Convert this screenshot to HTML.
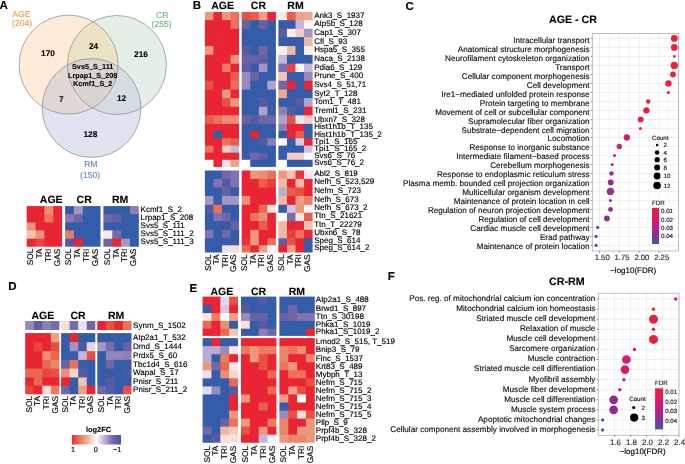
<!DOCTYPE html>
<html><head><meta charset="utf-8"><style>
html,body{margin:0;padding:0;background:#fff;}
body{width:685px;height:464px;overflow:hidden;}
svg{display:block;will-change:transform;}
text{font-family:"Liberation Sans", sans-serif;text-rendering:geometricPrecision;}
</style></head><body>
<svg width="685" height="464" viewBox="0 0 685 464" font-family='"Liberation Sans", sans-serif'>
<rect width="685" height="464" fill="#fff"/>
<text x="-0.40" y="8.90" font-size="11.5" font-weight="bold" text-anchor="start" fill="#000" stroke="#000" stroke-width="0.1" >A</text>
<text x="192.80" y="9.00" font-size="11.5" font-weight="bold" text-anchor="start" fill="#000" stroke="#000" stroke-width="0.1" >B</text>
<text x="405.60" y="9.50" font-size="11.5" font-weight="bold" text-anchor="start" fill="#000" stroke="#000" stroke-width="0.1" >C</text>
<text x="8.30" y="289.80" font-size="11.5" font-weight="bold" text-anchor="start" fill="#000" stroke="#000" stroke-width="0.1" >D</text>
<text x="189.40" y="291.80" font-size="11.5" font-weight="bold" text-anchor="start" fill="#000" stroke="#000" stroke-width="0.1" >E</text>
<text x="387.80" y="279.90" font-size="11.5" font-weight="bold" text-anchor="start" fill="#000" stroke="#000" stroke-width="0.1" >F</text>
<defs>
<clipPath id="cpA"><circle cx="68.6" cy="64.6" r="49.5" fill="#000" /></clipPath>
<clipPath id="cpC"><circle cx="116.9" cy="65.0" r="49.5" fill="#000" /></clipPath>
<clipPath id="cpR"><circle cx="91.6" cy="108.0" r="49.4" fill="#000" /></clipPath>
</defs>
<circle cx="68.6" cy="64.6" r="49.5" fill="#fdebd8" />
<circle cx="116.9" cy="65.0" r="49.5" fill="#e6efe6" />
<circle cx="91.6" cy="108.0" r="49.4" fill="#e0e3f0" />
<g clip-path="url(#cpA)"><circle cx="116.9" cy="65.0" r="49.5" fill="#ece2c6" /><circle cx="91.6" cy="108.0" r="49.4" fill="#e2d7d7" /></g>
<g clip-path="url(#cpC)"><circle cx="91.6" cy="108.0" r="49.4" fill="#d4dce4" /></g>
<g clip-path="url(#cpA)"><g clip-path="url(#cpC)"><circle cx="91.6" cy="108.0" r="49.4" fill="#d8d5d0" /></g></g>
<circle cx="68.6" cy="64.6" r="49.5" fill="none" stroke="#8a8a8a" stroke-width="0.7"/>
<circle cx="116.9" cy="65.0" r="49.5" fill="none" stroke="#8a8a8a" stroke-width="0.7"/>
<circle cx="91.6" cy="108.0" r="49.4" fill="none" stroke="#8a8a8a" stroke-width="0.7"/>
<text x="48.00" y="56.40" font-size="8.3" font-weight="bold" text-anchor="middle" fill="#000" stroke="#000" stroke-width="0.1" >170</text>
<text x="141.00" y="56.90" font-size="8.3" font-weight="bold" text-anchor="middle" fill="#000" stroke="#000" stroke-width="0.1" >216</text>
<text x="93.50" y="48.90" font-size="8.3" font-weight="bold" text-anchor="middle" fill="#000" stroke="#000" stroke-width="0.1" >24</text>
<text x="61.30" y="101.50" font-size="8.3" font-weight="bold" text-anchor="middle" fill="#000" stroke="#000" stroke-width="0.1" >7</text>
<text x="121.50" y="101.20" font-size="8.3" font-weight="bold" text-anchor="middle" fill="#000" stroke="#000" stroke-width="0.1" >12</text>
<text x="90.40" y="136.90" font-size="8.3" font-weight="bold" text-anchor="middle" fill="#000" stroke="#000" stroke-width="0.1" >128</text>
<text x="92.70" y="68.70" font-size="7.3" font-weight="bold" text-anchor="middle" fill="#000" stroke="#000" stroke-width="0.1" >Svs5_S_111</text>
<text x="92.70" y="77.70" font-size="7.3" font-weight="bold" text-anchor="middle" fill="#000" stroke="#000" stroke-width="0.1" >Lrpap1_S_208</text>
<text x="92.70" y="86.20" font-size="7.3" font-weight="bold" text-anchor="middle" fill="#000" stroke="#000" stroke-width="0.1" >Kcmf1_S_2</text>
<text x="21.30" y="16.80" font-size="8.6" font-weight="normal" text-anchor="middle" fill="#e9a24d" stroke="#e9a24d" stroke-width="0.15" >AGE</text>
<text x="22.10" y="26.00" font-size="8.6" font-weight="normal" text-anchor="middle" fill="#e9a24d" stroke="#e9a24d" stroke-width="0.15" >(204)</text>
<text x="162.20" y="18.00" font-size="8.6" font-weight="normal" text-anchor="middle" fill="#6fbb84" stroke="#6fbb84" stroke-width="0.15" >CR</text>
<text x="161.60" y="27.30" font-size="8.6" font-weight="normal" text-anchor="middle" fill="#6fbb84" stroke="#6fbb84" stroke-width="0.15" >(255)</text>
<text x="91.00" y="167.30" font-size="8.6" font-weight="normal" text-anchor="middle" fill="#6b87c6" stroke="#6b87c6" stroke-width="0.15" >RM</text>
<text x="90.10" y="177.90" font-size="8.6" font-weight="normal" text-anchor="middle" fill="#6b87c6" stroke="#6b87c6" stroke-width="0.15" >(150)</text>
<rect x="26.70" y="206.10" width="9.55" height="8.80" fill="#e92434"/>
<rect x="35.55" y="206.10" width="9.55" height="8.80" fill="#e92434"/>
<rect x="44.40" y="206.10" width="9.55" height="8.80" fill="#ec8e73"/>
<rect x="53.25" y="206.10" width="8.85" height="8.80" fill="#e92434"/>
<rect x="65.10" y="206.10" width="9.55" height="8.80" fill="#355ca8"/>
<rect x="73.95" y="206.10" width="9.55" height="8.80" fill="#a396c4"/>
<rect x="82.80" y="206.10" width="9.55" height="8.80" fill="#355ca8"/>
<rect x="91.65" y="206.10" width="8.85" height="8.80" fill="#355ca8"/>
<rect x="103.40" y="206.10" width="9.55" height="8.80" fill="#355ca8"/>
<rect x="112.25" y="206.10" width="9.55" height="8.80" fill="#355ca8"/>
<rect x="121.10" y="206.10" width="9.55" height="8.80" fill="#355ca8"/>
<rect x="129.95" y="206.10" width="8.85" height="8.80" fill="#8c7fb6"/>
<rect x="26.70" y="214.20" width="9.55" height="9.00" fill="#e92434"/>
<rect x="35.55" y="214.20" width="9.55" height="9.00" fill="#e92434"/>
<rect x="44.40" y="214.20" width="9.55" height="9.00" fill="#ea765c"/>
<rect x="53.25" y="214.20" width="8.85" height="9.00" fill="#e92434"/>
<rect x="65.10" y="214.20" width="9.55" height="9.00" fill="#8578b2"/>
<rect x="73.95" y="214.20" width="9.55" height="9.00" fill="#6d65a5"/>
<rect x="82.80" y="214.20" width="9.55" height="9.00" fill="#355ca8"/>
<rect x="91.65" y="214.20" width="8.85" height="9.00" fill="#355ca8"/>
<rect x="103.40" y="214.20" width="9.55" height="9.00" fill="#6d65a5"/>
<rect x="112.25" y="214.20" width="9.55" height="9.00" fill="#6260a2"/>
<rect x="121.10" y="214.20" width="9.55" height="9.00" fill="#355ca8"/>
<rect x="129.95" y="214.20" width="8.85" height="9.00" fill="#355ca8"/>
<rect x="26.70" y="222.50" width="9.55" height="8.60" fill="#ed9379"/>
<rect x="35.55" y="222.50" width="9.55" height="8.60" fill="#e92434"/>
<rect x="44.40" y="222.50" width="9.55" height="8.60" fill="#e92434"/>
<rect x="53.25" y="222.50" width="8.85" height="8.60" fill="#e92434"/>
<rect x="65.10" y="222.50" width="9.55" height="8.60" fill="#355ca8"/>
<rect x="73.95" y="222.50" width="9.55" height="8.60" fill="#355ca8"/>
<rect x="82.80" y="222.50" width="9.55" height="8.60" fill="#355ca8"/>
<rect x="91.65" y="222.50" width="8.85" height="8.60" fill="#355ca8"/>
<rect x="103.40" y="222.50" width="9.55" height="8.60" fill="#355ca8"/>
<rect x="112.25" y="222.50" width="9.55" height="8.60" fill="#355ca8"/>
<rect x="121.10" y="222.50" width="9.55" height="8.60" fill="#355ca8"/>
<rect x="129.95" y="222.50" width="8.85" height="8.60" fill="#355ca8"/>
<rect x="26.70" y="230.40" width="9.55" height="9.00" fill="#f3c4b2"/>
<rect x="35.55" y="230.40" width="9.55" height="9.00" fill="#ed9379"/>
<rect x="44.40" y="230.40" width="9.55" height="9.00" fill="#e92434"/>
<rect x="53.25" y="230.40" width="8.85" height="9.00" fill="#e92434"/>
<rect x="65.10" y="230.40" width="9.55" height="9.00" fill="#eb7960"/>
<rect x="73.95" y="230.40" width="9.55" height="9.00" fill="#355ca8"/>
<rect x="82.80" y="230.40" width="9.55" height="9.00" fill="#355ca8"/>
<rect x="91.65" y="230.40" width="8.85" height="9.00" fill="#355ca8"/>
<rect x="103.40" y="230.40" width="9.55" height="9.00" fill="#fbeae4"/>
<rect x="112.25" y="230.40" width="9.55" height="9.00" fill="#766caa"/>
<rect x="121.10" y="230.40" width="9.55" height="9.00" fill="#355ca8"/>
<rect x="129.95" y="230.40" width="8.85" height="9.00" fill="#355ca8"/>
<rect x="26.70" y="238.70" width="9.55" height="8.00" fill="#e92434"/>
<rect x="35.55" y="238.70" width="9.55" height="8.00" fill="#e9453c"/>
<rect x="44.40" y="238.70" width="9.55" height="8.00" fill="#e92434"/>
<rect x="53.25" y="238.70" width="8.85" height="8.00" fill="#e92434"/>
<rect x="65.10" y="238.70" width="9.55" height="8.00" fill="#555da2"/>
<rect x="73.95" y="238.70" width="9.55" height="8.00" fill="#e92434"/>
<rect x="82.80" y="238.70" width="9.55" height="8.00" fill="#355ca8"/>
<rect x="91.65" y="238.70" width="8.85" height="8.00" fill="#355ca8"/>
<rect x="103.40" y="238.70" width="9.55" height="8.00" fill="#6d65a5"/>
<rect x="112.25" y="238.70" width="9.55" height="8.00" fill="#e92434"/>
<rect x="121.10" y="238.70" width="9.55" height="8.00" fill="#a396c4"/>
<rect x="129.95" y="238.70" width="8.85" height="8.00" fill="#355ca8"/>
<text x="140.60" y="211.60" font-size="8" font-weight="normal" text-anchor="start" fill="#000" stroke="#000" stroke-width="0.15" >Kcmf1_S_2</text>
<text x="140.60" y="219.80" font-size="8" font-weight="normal" text-anchor="start" fill="#000" stroke="#000" stroke-width="0.15" >Lrpap1_S_208</text>
<text x="140.60" y="227.90" font-size="8" font-weight="normal" text-anchor="start" fill="#000" stroke="#000" stroke-width="0.15" >Svs5_S_111</text>
<text x="140.60" y="236.00" font-size="8" font-weight="normal" text-anchor="start" fill="#000" stroke="#000" stroke-width="0.15" >Svs5_S_111_2</text>
<text x="140.60" y="244.15" font-size="8" font-weight="normal" text-anchor="start" fill="#000" stroke="#000" stroke-width="0.15" >Svs5_S_111_3</text>
<text transform="translate(33.02,248.60) rotate(-90)" font-size="8.3" text-anchor="end" stroke="#000" stroke-width="0.15">SOL</text>
<text transform="translate(41.87,248.60) rotate(-90)" font-size="8.3" text-anchor="end" stroke="#000" stroke-width="0.15">TA</text>
<text transform="translate(50.73,248.60) rotate(-90)" font-size="8.3" text-anchor="end" stroke="#000" stroke-width="0.15">TRI</text>
<text transform="translate(59.57,248.60) rotate(-90)" font-size="8.3" text-anchor="end" stroke="#000" stroke-width="0.15">GAS</text>
<text transform="translate(71.42,248.60) rotate(-90)" font-size="8.3" text-anchor="end" stroke="#000" stroke-width="0.15">SOL</text>
<text transform="translate(80.28,248.60) rotate(-90)" font-size="8.3" text-anchor="end" stroke="#000" stroke-width="0.15">TA</text>
<text transform="translate(89.12,248.60) rotate(-90)" font-size="8.3" text-anchor="end" stroke="#000" stroke-width="0.15">TRI</text>
<text transform="translate(97.97,248.60) rotate(-90)" font-size="8.3" text-anchor="end" stroke="#000" stroke-width="0.15">GAS</text>
<text transform="translate(109.73,248.60) rotate(-90)" font-size="8.3" text-anchor="end" stroke="#000" stroke-width="0.15">SOL</text>
<text transform="translate(118.58,248.60) rotate(-90)" font-size="8.3" text-anchor="end" stroke="#000" stroke-width="0.15">TA</text>
<text transform="translate(127.43,248.60) rotate(-90)" font-size="8.3" text-anchor="end" stroke="#000" stroke-width="0.15">TRI</text>
<text transform="translate(136.28,248.60) rotate(-90)" font-size="8.3" text-anchor="end" stroke="#000" stroke-width="0.15">GAS</text>
<text x="62.60" y="202.80" font-size="10.5" font-weight="bold" text-anchor="end" fill="#000" stroke="#000" stroke-width="0.1" >AGE</text>
<text x="84.20" y="202.80" font-size="10.5" font-weight="bold" text-anchor="middle" fill="#000" stroke="#000" stroke-width="0.1" >CR</text>
<text x="120.20" y="202.80" font-size="10.5" font-weight="bold" text-anchor="middle" fill="#000" stroke="#000" stroke-width="0.1" >RM</text>
<rect x="204.90" y="11.90" width="9.25" height="8.95" fill="#ed977d"/>
<rect x="213.45" y="11.90" width="9.25" height="8.95" fill="#e92434"/>
<rect x="222.00" y="11.90" width="9.25" height="8.95" fill="#ed977d"/>
<rect x="230.55" y="11.90" width="8.55" height="8.95" fill="#ea7259"/>
<rect x="241.70" y="11.90" width="9.25" height="8.95" fill="#e95041"/>
<rect x="250.25" y="11.90" width="9.25" height="8.95" fill="#ea5d49"/>
<rect x="258.80" y="11.90" width="9.25" height="8.95" fill="#eea086"/>
<rect x="267.35" y="11.90" width="8.55" height="8.95" fill="#e92434"/>
<rect x="278.40" y="11.90" width="9.25" height="8.95" fill="#fbeae4"/>
<rect x="286.95" y="11.90" width="9.25" height="8.95" fill="#ea5d49"/>
<rect x="295.50" y="11.90" width="9.25" height="8.95" fill="#eea086"/>
<rect x="304.05" y="11.90" width="8.55" height="8.95" fill="#efa78f"/>
<rect x="204.90" y="20.15" width="9.25" height="9.35" fill="#e92434"/>
<rect x="213.45" y="20.15" width="9.25" height="9.35" fill="#e92434"/>
<rect x="222.00" y="20.15" width="9.25" height="9.35" fill="#e92434"/>
<rect x="230.55" y="20.15" width="8.55" height="9.35" fill="#ea7259"/>
<rect x="241.70" y="20.15" width="9.25" height="9.35" fill="#6862a2"/>
<rect x="250.25" y="20.15" width="9.25" height="9.35" fill="#355ca8"/>
<rect x="258.80" y="20.15" width="9.25" height="9.35" fill="#6862a2"/>
<rect x="267.35" y="20.15" width="8.55" height="9.35" fill="#355ca8"/>
<rect x="278.40" y="20.15" width="9.25" height="9.35" fill="#355ca8"/>
<rect x="286.95" y="20.15" width="9.25" height="9.35" fill="#355ca8"/>
<rect x="295.50" y="20.15" width="9.25" height="9.35" fill="#c4b6d7"/>
<rect x="304.05" y="20.15" width="8.55" height="9.35" fill="#fdf5f1"/>
<rect x="204.90" y="28.80" width="9.25" height="9.00" fill="#e92434"/>
<rect x="213.45" y="28.80" width="9.25" height="9.00" fill="#e92434"/>
<rect x="222.00" y="28.80" width="9.25" height="9.00" fill="#e92434"/>
<rect x="230.55" y="28.80" width="8.55" height="9.00" fill="#e92434"/>
<rect x="241.70" y="28.80" width="9.25" height="9.00" fill="#355ca8"/>
<rect x="250.25" y="28.80" width="9.25" height="9.00" fill="#355ca8"/>
<rect x="258.80" y="28.80" width="9.25" height="9.00" fill="#355ca8"/>
<rect x="267.35" y="28.80" width="8.55" height="9.00" fill="#355ca8"/>
<rect x="278.40" y="28.80" width="9.25" height="9.00" fill="#555da2"/>
<rect x="286.95" y="28.80" width="9.25" height="9.00" fill="#fceee9"/>
<rect x="295.50" y="28.80" width="9.25" height="9.00" fill="#f5cdbe"/>
<rect x="304.05" y="28.80" width="8.55" height="9.00" fill="#a396c4"/>
<rect x="204.90" y="37.10" width="9.25" height="9.70" fill="#e92434"/>
<rect x="213.45" y="37.10" width="9.25" height="9.70" fill="#e92434"/>
<rect x="222.00" y="37.10" width="9.25" height="9.70" fill="#e92434"/>
<rect x="230.55" y="37.10" width="8.55" height="9.70" fill="#e92434"/>
<rect x="241.70" y="37.10" width="9.25" height="9.70" fill="#355ca8"/>
<rect x="250.25" y="37.10" width="9.25" height="9.70" fill="#355ca8"/>
<rect x="258.80" y="37.10" width="9.25" height="9.70" fill="#355ca8"/>
<rect x="267.35" y="37.10" width="8.55" height="9.70" fill="#355ca8"/>
<rect x="278.40" y="37.10" width="9.25" height="9.70" fill="#355ca8"/>
<rect x="286.95" y="37.10" width="9.25" height="9.70" fill="#355ca8"/>
<rect x="295.50" y="37.10" width="9.25" height="9.70" fill="#355ca8"/>
<rect x="304.05" y="37.10" width="8.55" height="9.70" fill="#f1b8a3"/>
<rect x="204.90" y="46.10" width="9.25" height="9.50" fill="#ed977d"/>
<rect x="213.45" y="46.10" width="9.25" height="9.50" fill="#e92434"/>
<rect x="222.00" y="46.10" width="9.25" height="9.50" fill="#e92434"/>
<rect x="230.55" y="46.10" width="8.55" height="9.50" fill="#e92434"/>
<rect x="241.70" y="46.10" width="9.25" height="9.50" fill="#555da2"/>
<rect x="250.25" y="46.10" width="9.25" height="9.50" fill="#355ca8"/>
<rect x="258.80" y="46.10" width="9.25" height="9.50" fill="#7068a6"/>
<rect x="267.35" y="46.10" width="8.55" height="9.50" fill="#355ca8"/>
<rect x="278.40" y="46.10" width="9.25" height="9.50" fill="#fceee9"/>
<rect x="286.95" y="46.10" width="9.25" height="9.50" fill="#f1b8a3"/>
<rect x="295.50" y="46.10" width="9.25" height="9.50" fill="#355ca8"/>
<rect x="304.05" y="46.10" width="8.55" height="9.50" fill="#fceee9"/>
<rect x="204.90" y="54.90" width="9.25" height="9.45" fill="#e92434"/>
<rect x="213.45" y="54.90" width="9.25" height="9.45" fill="#e92434"/>
<rect x="222.00" y="54.90" width="9.25" height="9.45" fill="#e92434"/>
<rect x="230.55" y="54.90" width="8.55" height="9.45" fill="#ed977d"/>
<rect x="241.70" y="54.90" width="9.25" height="9.45" fill="#6862a2"/>
<rect x="250.25" y="54.90" width="9.25" height="9.45" fill="#6862a2"/>
<rect x="258.80" y="54.90" width="9.25" height="9.45" fill="#5f5fa2"/>
<rect x="267.35" y="54.90" width="8.55" height="9.45" fill="#355ca8"/>
<rect x="278.40" y="54.90" width="9.25" height="9.45" fill="#c4b6d7"/>
<rect x="286.95" y="54.90" width="9.25" height="9.45" fill="#355ca8"/>
<rect x="295.50" y="54.90" width="9.25" height="9.45" fill="#355ca8"/>
<rect x="304.05" y="54.90" width="8.55" height="9.45" fill="#355ca8"/>
<rect x="204.90" y="63.65" width="9.25" height="9.05" fill="#e92434"/>
<rect x="213.45" y="63.65" width="9.25" height="9.05" fill="#e92434"/>
<rect x="222.00" y="63.65" width="9.25" height="9.05" fill="#eb7b61"/>
<rect x="230.55" y="63.65" width="8.55" height="9.05" fill="#e92434"/>
<rect x="241.70" y="63.65" width="9.25" height="9.05" fill="#5f5fa2"/>
<rect x="250.25" y="63.65" width="9.25" height="9.05" fill="#355ca8"/>
<rect x="258.80" y="63.65" width="9.25" height="9.05" fill="#a396c4"/>
<rect x="267.35" y="63.65" width="8.55" height="9.05" fill="#355ca8"/>
<rect x="278.40" y="63.65" width="9.25" height="9.05" fill="#786dab"/>
<rect x="286.95" y="63.65" width="9.25" height="9.05" fill="#e9453c"/>
<rect x="295.50" y="63.65" width="9.25" height="9.05" fill="#f7f5f9"/>
<rect x="304.05" y="63.65" width="8.55" height="9.05" fill="#c4b6d7"/>
<rect x="204.90" y="72.00" width="9.25" height="9.45" fill="#e92434"/>
<rect x="213.45" y="72.00" width="9.25" height="9.45" fill="#e92434"/>
<rect x="222.00" y="72.00" width="9.25" height="9.45" fill="#e92434"/>
<rect x="230.55" y="72.00" width="8.55" height="9.45" fill="#ea5d49"/>
<rect x="241.70" y="72.00" width="9.25" height="9.45" fill="#978abd"/>
<rect x="250.25" y="72.00" width="9.25" height="9.45" fill="#6862a2"/>
<rect x="258.80" y="72.00" width="9.25" height="9.45" fill="#355ca8"/>
<rect x="267.35" y="72.00" width="8.55" height="9.45" fill="#355ca8"/>
<rect x="278.40" y="72.00" width="9.25" height="9.45" fill="#f3c4b2"/>
<rect x="286.95" y="72.00" width="9.25" height="9.45" fill="#355ca8"/>
<rect x="295.50" y="72.00" width="9.25" height="9.45" fill="#355ca8"/>
<rect x="304.05" y="72.00" width="8.55" height="9.45" fill="#978abd"/>
<rect x="204.90" y="80.75" width="9.25" height="9.50" fill="#e95041"/>
<rect x="213.45" y="80.75" width="9.25" height="9.50" fill="#e92434"/>
<rect x="222.00" y="80.75" width="9.25" height="9.50" fill="#e92434"/>
<rect x="230.55" y="80.75" width="8.55" height="9.50" fill="#ea7259"/>
<rect x="241.70" y="80.75" width="9.25" height="9.50" fill="#978abd"/>
<rect x="250.25" y="80.75" width="9.25" height="9.50" fill="#355ca8"/>
<rect x="258.80" y="80.75" width="9.25" height="9.50" fill="#355ca8"/>
<rect x="267.35" y="80.75" width="8.55" height="9.50" fill="#aea1ca"/>
<rect x="278.40" y="80.75" width="9.25" height="9.50" fill="#7068a6"/>
<rect x="286.95" y="80.75" width="9.25" height="9.50" fill="#e92434"/>
<rect x="295.50" y="80.75" width="9.25" height="9.50" fill="#355ca8"/>
<rect x="304.05" y="80.75" width="8.55" height="9.50" fill="#e92434"/>
<rect x="204.90" y="89.55" width="9.25" height="9.30" fill="#e92434"/>
<rect x="213.45" y="89.55" width="9.25" height="9.30" fill="#e92434"/>
<rect x="222.00" y="89.55" width="9.25" height="9.30" fill="#ed977d"/>
<rect x="230.55" y="89.55" width="8.55" height="9.30" fill="#e92434"/>
<rect x="241.70" y="89.55" width="9.25" height="9.30" fill="#355ca8"/>
<rect x="250.25" y="89.55" width="9.25" height="9.30" fill="#355ca8"/>
<rect x="258.80" y="89.55" width="9.25" height="9.30" fill="#355ca8"/>
<rect x="267.35" y="89.55" width="8.55" height="9.30" fill="#355ca8"/>
<rect x="278.40" y="89.55" width="9.25" height="9.30" fill="#efa78f"/>
<rect x="286.95" y="89.55" width="9.25" height="9.30" fill="#355ca8"/>
<rect x="295.50" y="89.55" width="9.25" height="9.30" fill="#355ca8"/>
<rect x="304.05" y="89.55" width="8.55" height="9.30" fill="#355ca8"/>
<rect x="204.90" y="98.15" width="9.25" height="9.35" fill="#e92434"/>
<rect x="213.45" y="98.15" width="9.25" height="9.35" fill="#e92434"/>
<rect x="222.00" y="98.15" width="9.25" height="9.35" fill="#e95041"/>
<rect x="230.55" y="98.15" width="8.55" height="9.35" fill="#ed977d"/>
<rect x="241.70" y="98.15" width="9.25" height="9.35" fill="#355ca8"/>
<rect x="250.25" y="98.15" width="9.25" height="9.35" fill="#355ca8"/>
<rect x="258.80" y="98.15" width="9.25" height="9.35" fill="#535ca2"/>
<rect x="267.35" y="98.15" width="8.55" height="9.35" fill="#355ca8"/>
<rect x="278.40" y="98.15" width="9.25" height="9.35" fill="#355ca8"/>
<rect x="286.95" y="98.15" width="9.25" height="9.35" fill="#355ca8"/>
<rect x="295.50" y="98.15" width="9.25" height="9.35" fill="#535ca2"/>
<rect x="304.05" y="98.15" width="8.55" height="9.35" fill="#aea1ca"/>
<rect x="204.90" y="106.80" width="9.25" height="9.20" fill="#e92434"/>
<rect x="213.45" y="106.80" width="9.25" height="9.20" fill="#e92434"/>
<rect x="222.00" y="106.80" width="9.25" height="9.20" fill="#e92434"/>
<rect x="230.55" y="106.80" width="8.55" height="9.20" fill="#e92434"/>
<rect x="241.70" y="106.80" width="9.25" height="9.20" fill="#355ca8"/>
<rect x="250.25" y="106.80" width="9.25" height="9.20" fill="#355ca8"/>
<rect x="258.80" y="106.80" width="9.25" height="9.20" fill="#aea1ca"/>
<rect x="267.35" y="106.80" width="8.55" height="9.20" fill="#355ca8"/>
<rect x="278.40" y="106.80" width="9.25" height="9.20" fill="#8c7fb6"/>
<rect x="286.95" y="106.80" width="9.25" height="9.20" fill="#535ca2"/>
<rect x="295.50" y="106.80" width="9.25" height="9.20" fill="#355ca8"/>
<rect x="304.05" y="106.80" width="8.55" height="9.20" fill="#e92434"/>
<rect x="204.90" y="115.30" width="9.25" height="9.30" fill="#ea5d49"/>
<rect x="213.45" y="115.30" width="9.25" height="9.30" fill="#ea7259"/>
<rect x="222.00" y="115.30" width="9.25" height="9.30" fill="#ec8e73"/>
<rect x="230.55" y="115.30" width="8.55" height="9.30" fill="#ec8e73"/>
<rect x="241.70" y="115.30" width="9.25" height="9.30" fill="#6862a2"/>
<rect x="250.25" y="115.30" width="9.25" height="9.30" fill="#535ca2"/>
<rect x="258.80" y="115.30" width="9.25" height="9.30" fill="#7068a6"/>
<rect x="267.35" y="115.30" width="8.55" height="9.30" fill="#7068a6"/>
<rect x="278.40" y="115.30" width="9.25" height="9.30" fill="#aea1ca"/>
<rect x="286.95" y="115.30" width="9.25" height="9.30" fill="#e95041"/>
<rect x="295.50" y="115.30" width="9.25" height="9.30" fill="#ece6f1"/>
<rect x="304.05" y="115.30" width="8.55" height="9.30" fill="#f5cdbe"/>
<rect x="204.90" y="123.90" width="9.25" height="7.80" fill="#e92434"/>
<rect x="213.45" y="123.90" width="9.25" height="7.80" fill="#e92434"/>
<rect x="222.00" y="123.90" width="9.25" height="7.80" fill="#e92434"/>
<rect x="230.55" y="123.90" width="8.55" height="7.80" fill="#e92434"/>
<rect x="241.70" y="123.90" width="9.25" height="7.80" fill="#355ca8"/>
<rect x="250.25" y="123.90" width="9.25" height="7.80" fill="#355ca8"/>
<rect x="258.80" y="123.90" width="9.25" height="7.80" fill="#355ca8"/>
<rect x="267.35" y="123.90" width="8.55" height="7.80" fill="#355ca8"/>
<rect x="278.40" y="123.90" width="9.25" height="7.80" fill="#8c7fb6"/>
<rect x="286.95" y="123.90" width="9.25" height="7.80" fill="#e92434"/>
<rect x="295.50" y="123.90" width="9.25" height="7.80" fill="#e92434"/>
<rect x="304.05" y="123.90" width="8.55" height="7.80" fill="#355ca8"/>
<rect x="204.90" y="131.00" width="9.25" height="8.00" fill="#e92434"/>
<rect x="213.45" y="131.00" width="9.25" height="8.00" fill="#355ca8"/>
<rect x="222.00" y="131.00" width="9.25" height="8.00" fill="#e92434"/>
<rect x="230.55" y="131.00" width="8.55" height="8.00" fill="#e92434"/>
<rect x="241.70" y="131.00" width="9.25" height="8.00" fill="#355ca8"/>
<rect x="250.25" y="131.00" width="9.25" height="8.00" fill="#e92434"/>
<rect x="258.80" y="131.00" width="9.25" height="8.00" fill="#355ca8"/>
<rect x="267.35" y="131.00" width="8.55" height="8.00" fill="#355ca8"/>
<rect x="278.40" y="131.00" width="9.25" height="8.00" fill="#355ca8"/>
<rect x="286.95" y="131.00" width="9.25" height="8.00" fill="#e92434"/>
<rect x="295.50" y="131.00" width="9.25" height="8.00" fill="#ea5d49"/>
<rect x="304.05" y="131.00" width="8.55" height="8.00" fill="#355ca8"/>
<rect x="204.90" y="138.30" width="9.25" height="8.00" fill="#e92434"/>
<rect x="213.45" y="138.30" width="9.25" height="8.00" fill="#e92434"/>
<rect x="222.00" y="138.30" width="9.25" height="8.00" fill="#ea7259"/>
<rect x="230.55" y="138.30" width="8.55" height="8.00" fill="#ea5d49"/>
<rect x="241.70" y="138.30" width="9.25" height="8.00" fill="#355ca8"/>
<rect x="250.25" y="138.30" width="9.25" height="8.00" fill="#355ca8"/>
<rect x="258.80" y="138.30" width="9.25" height="8.00" fill="#535ca2"/>
<rect x="267.35" y="138.30" width="8.55" height="8.00" fill="#8c7fb6"/>
<rect x="278.40" y="138.30" width="9.25" height="8.00" fill="#fef9f7"/>
<rect x="286.95" y="138.30" width="9.25" height="8.00" fill="#355ca8"/>
<rect x="295.50" y="138.30" width="9.25" height="8.00" fill="#d8cde4"/>
<rect x="304.05" y="138.30" width="8.55" height="8.00" fill="#e92434"/>
<rect x="204.90" y="145.60" width="9.25" height="7.80" fill="#ea7259"/>
<rect x="213.45" y="145.60" width="9.25" height="7.80" fill="#e92434"/>
<rect x="222.00" y="145.60" width="9.25" height="7.80" fill="#f5cdbe"/>
<rect x="230.55" y="145.60" width="8.55" height="7.80" fill="#c4b6d7"/>
<rect x="241.70" y="145.60" width="9.25" height="7.80" fill="#355ca8"/>
<rect x="250.25" y="145.60" width="9.25" height="7.80" fill="#355ca8"/>
<rect x="258.80" y="145.60" width="9.25" height="7.80" fill="#355ca8"/>
<rect x="267.35" y="145.60" width="8.55" height="7.80" fill="#355ca8"/>
<rect x="278.40" y="145.60" width="9.25" height="7.80" fill="#355ca8"/>
<rect x="286.95" y="145.60" width="9.25" height="7.80" fill="#355ca8"/>
<rect x="295.50" y="145.60" width="9.25" height="7.80" fill="#355ca8"/>
<rect x="304.05" y="145.60" width="8.55" height="7.80" fill="#cec2dd"/>
<rect x="204.90" y="152.70" width="9.25" height="7.80" fill="#e92434"/>
<rect x="213.45" y="152.70" width="9.25" height="7.80" fill="#e92434"/>
<rect x="222.00" y="152.70" width="9.25" height="7.80" fill="#e92434"/>
<rect x="230.55" y="152.70" width="8.55" height="7.80" fill="#e92434"/>
<rect x="241.70" y="152.70" width="9.25" height="7.80" fill="#355ca8"/>
<rect x="250.25" y="152.70" width="9.25" height="7.80" fill="#7068a6"/>
<rect x="258.80" y="152.70" width="9.25" height="7.80" fill="#5f5fa2"/>
<rect x="267.35" y="152.70" width="8.55" height="7.80" fill="#355ca8"/>
<rect x="278.40" y="152.70" width="9.25" height="7.80" fill="#355ca8"/>
<rect x="286.95" y="152.70" width="9.25" height="7.80" fill="#f5cdbe"/>
<rect x="295.50" y="152.70" width="9.25" height="7.80" fill="#f5cdbe"/>
<rect x="304.05" y="152.70" width="8.55" height="7.80" fill="#fefbfa"/>
<rect x="204.90" y="159.80" width="9.25" height="7.10" fill="#ffffff"/>
<rect x="213.45" y="159.80" width="9.25" height="7.10" fill="#e92434"/>
<rect x="222.00" y="159.80" width="9.25" height="7.10" fill="#e8e1ee"/>
<rect x="230.55" y="159.80" width="8.55" height="7.10" fill="#eea086"/>
<rect x="241.70" y="159.80" width="9.25" height="7.10" fill="#ffffff"/>
<rect x="250.25" y="159.80" width="9.25" height="7.10" fill="#355ca8"/>
<rect x="258.80" y="159.80" width="9.25" height="7.10" fill="#355ca8"/>
<rect x="267.35" y="159.80" width="8.55" height="7.10" fill="#355ca8"/>
<rect x="278.40" y="159.80" width="9.25" height="7.10" fill="#ffffff"/>
<rect x="286.95" y="159.80" width="9.25" height="7.10" fill="#355ca8"/>
<rect x="295.50" y="159.80" width="9.25" height="7.10" fill="#355ca8"/>
<rect x="304.05" y="159.80" width="8.55" height="7.10" fill="#355ca8"/>
<rect x="204.90" y="170.50" width="9.25" height="9.10" fill="#355ca8"/>
<rect x="213.45" y="170.50" width="9.25" height="9.10" fill="#355ca8"/>
<rect x="222.00" y="170.50" width="9.25" height="9.10" fill="#7068a6"/>
<rect x="230.55" y="170.50" width="8.55" height="9.10" fill="#8073af"/>
<rect x="241.70" y="170.50" width="9.25" height="9.10" fill="#e92434"/>
<rect x="250.25" y="170.50" width="9.25" height="9.10" fill="#ed977d"/>
<rect x="258.80" y="170.50" width="9.25" height="9.10" fill="#ec8e73"/>
<rect x="267.35" y="170.50" width="8.55" height="9.10" fill="#ea7259"/>
<rect x="278.40" y="170.50" width="9.25" height="9.10" fill="#ed977d"/>
<rect x="286.95" y="170.50" width="9.25" height="9.10" fill="#f3c4b2"/>
<rect x="295.50" y="170.50" width="9.25" height="9.10" fill="#e93538"/>
<rect x="304.05" y="170.50" width="8.55" height="9.10" fill="#ece6f1"/>
<rect x="204.90" y="178.90" width="9.25" height="9.20" fill="#355ca8"/>
<rect x="213.45" y="178.90" width="9.25" height="9.20" fill="#8073af"/>
<rect x="222.00" y="178.90" width="9.25" height="9.20" fill="#535ca2"/>
<rect x="230.55" y="178.90" width="8.55" height="9.20" fill="#8073af"/>
<rect x="241.70" y="178.90" width="9.25" height="9.20" fill="#e92434"/>
<rect x="250.25" y="178.90" width="9.25" height="9.20" fill="#e92434"/>
<rect x="258.80" y="178.90" width="9.25" height="9.20" fill="#ea5d49"/>
<rect x="267.35" y="178.90" width="8.55" height="9.20" fill="#e93f3b"/>
<rect x="278.40" y="178.90" width="9.25" height="9.20" fill="#f1b8a3"/>
<rect x="286.95" y="178.90" width="9.25" height="9.20" fill="#e92434"/>
<rect x="295.50" y="178.90" width="9.25" height="9.20" fill="#f1b8a3"/>
<rect x="304.05" y="178.90" width="8.55" height="9.20" fill="#e92434"/>
<rect x="204.90" y="187.40" width="9.25" height="9.20" fill="#355ca8"/>
<rect x="213.45" y="187.40" width="9.25" height="9.20" fill="#355ca8"/>
<rect x="222.00" y="187.40" width="9.25" height="9.20" fill="#6862a2"/>
<rect x="230.55" y="187.40" width="8.55" height="9.20" fill="#355ca8"/>
<rect x="241.70" y="187.40" width="9.25" height="9.20" fill="#e92434"/>
<rect x="250.25" y="187.40" width="9.25" height="9.20" fill="#e92434"/>
<rect x="258.80" y="187.40" width="9.25" height="9.20" fill="#e92434"/>
<rect x="267.35" y="187.40" width="8.55" height="9.20" fill="#e92434"/>
<rect x="278.40" y="187.40" width="9.25" height="9.20" fill="#b9abd1"/>
<rect x="286.95" y="187.40" width="9.25" height="9.20" fill="#ea5d49"/>
<rect x="295.50" y="187.40" width="9.25" height="9.20" fill="#e95041"/>
<rect x="304.05" y="187.40" width="8.55" height="9.20" fill="#e92434"/>
<rect x="204.90" y="195.90" width="9.25" height="9.60" fill="#a396c4"/>
<rect x="213.45" y="195.90" width="9.25" height="9.60" fill="#355ca8"/>
<rect x="222.00" y="195.90" width="9.25" height="9.60" fill="#a396c4"/>
<rect x="230.55" y="195.90" width="8.55" height="9.60" fill="#a396c4"/>
<rect x="241.70" y="195.90" width="9.25" height="9.60" fill="#ec8e73"/>
<rect x="250.25" y="195.90" width="9.25" height="9.60" fill="#e92434"/>
<rect x="258.80" y="195.90" width="9.25" height="9.60" fill="#e92434"/>
<rect x="267.35" y="195.90" width="8.55" height="9.60" fill="#e92434"/>
<rect x="278.40" y="195.90" width="9.25" height="9.60" fill="#f1b8a3"/>
<rect x="286.95" y="195.90" width="9.25" height="9.60" fill="#e92434"/>
<rect x="295.50" y="195.90" width="9.25" height="9.60" fill="#eea086"/>
<rect x="304.05" y="195.90" width="8.55" height="9.60" fill="#eb7b61"/>
<rect x="204.90" y="204.80" width="9.25" height="8.70" fill="#535ca2"/>
<rect x="213.45" y="204.80" width="9.25" height="8.70" fill="#ea7259"/>
<rect x="222.00" y="204.80" width="9.25" height="8.70" fill="#355ca8"/>
<rect x="230.55" y="204.80" width="8.55" height="8.70" fill="#355ca8"/>
<rect x="241.70" y="204.80" width="9.25" height="8.70" fill="#e92434"/>
<rect x="250.25" y="204.80" width="9.25" height="8.70" fill="#e92434"/>
<rect x="258.80" y="204.80" width="9.25" height="8.70" fill="#ea6850"/>
<rect x="267.35" y="204.80" width="8.55" height="8.70" fill="#fae6de"/>
<rect x="278.40" y="204.80" width="9.25" height="8.70" fill="#355ca8"/>
<rect x="286.95" y="204.80" width="9.25" height="8.70" fill="#cec2dd"/>
<rect x="295.50" y="204.80" width="9.25" height="8.70" fill="#ed977d"/>
<rect x="304.05" y="204.80" width="8.55" height="8.70" fill="#fef9f7"/>
<rect x="204.90" y="212.80" width="9.25" height="9.00" fill="#355ca8"/>
<rect x="213.45" y="212.80" width="9.25" height="9.00" fill="#8073af"/>
<rect x="222.00" y="212.80" width="9.25" height="9.00" fill="#7068a6"/>
<rect x="230.55" y="212.80" width="8.55" height="9.00" fill="#355ca8"/>
<rect x="241.70" y="212.80" width="9.25" height="9.00" fill="#e92434"/>
<rect x="250.25" y="212.80" width="9.25" height="9.00" fill="#ea7259"/>
<rect x="258.80" y="212.80" width="9.25" height="9.00" fill="#ec8e73"/>
<rect x="267.35" y="212.80" width="8.55" height="9.00" fill="#e92434"/>
<rect x="278.40" y="212.80" width="9.25" height="9.00" fill="#ffffff"/>
<rect x="286.95" y="212.80" width="9.25" height="9.00" fill="#786dab"/>
<rect x="295.50" y="212.80" width="9.25" height="9.00" fill="#fae6de"/>
<rect x="304.05" y="212.80" width="8.55" height="9.00" fill="#ea5d49"/>
<rect x="204.90" y="221.10" width="9.25" height="9.50" fill="#355ca8"/>
<rect x="213.45" y="221.10" width="9.25" height="9.50" fill="#355ca8"/>
<rect x="222.00" y="221.10" width="9.25" height="9.50" fill="#355ca8"/>
<rect x="230.55" y="221.10" width="8.55" height="9.50" fill="#6862a2"/>
<rect x="241.70" y="221.10" width="9.25" height="9.50" fill="#e92434"/>
<rect x="250.25" y="221.10" width="9.25" height="9.50" fill="#e92434"/>
<rect x="258.80" y="221.10" width="9.25" height="9.50" fill="#ea5d49"/>
<rect x="267.35" y="221.10" width="8.55" height="9.50" fill="#e92434"/>
<rect x="278.40" y="221.10" width="9.25" height="9.50" fill="#f1b8a3"/>
<rect x="286.95" y="221.10" width="9.25" height="9.50" fill="#e92434"/>
<rect x="295.50" y="221.10" width="9.25" height="9.50" fill="#e92434"/>
<rect x="304.05" y="221.10" width="8.55" height="9.50" fill="#f3c4b2"/>
<rect x="204.90" y="229.90" width="9.25" height="9.10" fill="#8073af"/>
<rect x="213.45" y="229.90" width="9.25" height="9.10" fill="#355ca8"/>
<rect x="222.00" y="229.90" width="9.25" height="9.10" fill="#7068a6"/>
<rect x="230.55" y="229.90" width="8.55" height="9.10" fill="#355ca8"/>
<rect x="241.70" y="229.90" width="9.25" height="9.10" fill="#e92434"/>
<rect x="250.25" y="229.90" width="9.25" height="9.10" fill="#ed977d"/>
<rect x="258.80" y="229.90" width="9.25" height="9.10" fill="#e92434"/>
<rect x="267.35" y="229.90" width="8.55" height="9.10" fill="#e92434"/>
<rect x="278.40" y="229.90" width="9.25" height="9.10" fill="#f1b8a3"/>
<rect x="286.95" y="229.90" width="9.25" height="9.10" fill="#e93f3b"/>
<rect x="295.50" y="229.90" width="9.25" height="9.10" fill="#ea7259"/>
<rect x="304.05" y="229.90" width="8.55" height="9.10" fill="#e92434"/>
<rect x="204.90" y="238.30" width="9.25" height="7.70" fill="#355ca8"/>
<rect x="213.45" y="238.30" width="9.25" height="7.70" fill="#355ca8"/>
<rect x="222.00" y="238.30" width="9.25" height="7.70" fill="#355ca8"/>
<rect x="230.55" y="238.30" width="8.55" height="7.70" fill="#355ca8"/>
<rect x="241.70" y="238.30" width="9.25" height="7.70" fill="#e93538"/>
<rect x="250.25" y="238.30" width="9.25" height="7.70" fill="#ed977d"/>
<rect x="258.80" y="238.30" width="9.25" height="7.70" fill="#e92434"/>
<rect x="267.35" y="238.30" width="8.55" height="7.70" fill="#ea7259"/>
<rect x="278.40" y="238.30" width="9.25" height="7.70" fill="#5f5fa2"/>
<rect x="286.95" y="238.30" width="9.25" height="7.70" fill="#e95041"/>
<rect x="295.50" y="238.30" width="9.25" height="7.70" fill="#e92434"/>
<rect x="304.05" y="238.30" width="8.55" height="7.70" fill="#355ca8"/>
<rect x="204.90" y="245.30" width="9.25" height="7.20" fill="#355ca8"/>
<rect x="213.45" y="245.30" width="9.25" height="7.20" fill="#355ca8"/>
<rect x="222.00" y="245.30" width="9.25" height="7.20" fill="#e8e1ee"/>
<rect x="230.55" y="245.30" width="8.55" height="7.20" fill="#f9e0d6"/>
<rect x="241.70" y="245.30" width="9.25" height="7.20" fill="#ea6850"/>
<rect x="250.25" y="245.30" width="9.25" height="7.20" fill="#e92434"/>
<rect x="258.80" y="245.30" width="9.25" height="7.20" fill="#eea086"/>
<rect x="267.35" y="245.30" width="8.55" height="7.20" fill="#fef9f7"/>
<rect x="278.40" y="245.30" width="9.25" height="7.20" fill="#e92434"/>
<rect x="286.95" y="245.30" width="9.25" height="7.20" fill="#eea086"/>
<rect x="295.50" y="245.30" width="9.25" height="7.20" fill="#e92434"/>
<rect x="304.05" y="245.30" width="8.55" height="7.20" fill="#355ca8"/>
<text x="314.20" y="17.92" font-size="8" font-weight="normal" text-anchor="start" fill="#000" stroke="#000" stroke-width="0.15" >Ank3_S_1937</text>
<text x="314.20" y="26.38" font-size="8" font-weight="normal" text-anchor="start" fill="#000" stroke="#000" stroke-width="0.15" >Atp5b_S_128</text>
<text x="314.20" y="34.85" font-size="8" font-weight="normal" text-anchor="start" fill="#000" stroke="#000" stroke-width="0.15" >Cap1_S_307</text>
<text x="314.20" y="43.50" font-size="8" font-weight="normal" text-anchor="start" fill="#000" stroke="#000" stroke-width="0.15" >Cfl_S_93</text>
<text x="314.20" y="52.40" font-size="8" font-weight="normal" text-anchor="start" fill="#000" stroke="#000" stroke-width="0.15" >Hspa5_S_355</text>
<text x="314.20" y="61.17" font-size="8" font-weight="normal" text-anchor="start" fill="#000" stroke="#000" stroke-width="0.15" >Naca_S_2138</text>
<text x="314.20" y="69.73" font-size="8" font-weight="normal" text-anchor="start" fill="#000" stroke="#000" stroke-width="0.15" >Pdia6_S_129</text>
<text x="314.20" y="78.28" font-size="8" font-weight="normal" text-anchor="start" fill="#000" stroke="#000" stroke-width="0.15" >Prune_S_400</text>
<text x="314.20" y="87.05" font-size="8" font-weight="normal" text-anchor="start" fill="#000" stroke="#000" stroke-width="0.15" >Svs4_S_51,71</text>
<text x="314.20" y="95.75" font-size="8" font-weight="normal" text-anchor="start" fill="#000" stroke="#000" stroke-width="0.15" >Syt2_T_128</text>
<text x="314.20" y="104.38" font-size="8" font-weight="normal" text-anchor="start" fill="#000" stroke="#000" stroke-width="0.15" >Tom1_T_481</text>
<text x="314.20" y="112.95" font-size="8" font-weight="normal" text-anchor="start" fill="#000" stroke="#000" stroke-width="0.15" >Treml1_S_231</text>
<text x="314.20" y="121.50" font-size="8" font-weight="normal" text-anchor="start" fill="#000" stroke="#000" stroke-width="0.15" >Ubxn7_S_328</text>
<text x="314.20" y="129.35" font-size="8" font-weight="normal" text-anchor="start" fill="#000" stroke="#000" stroke-width="0.15" >Hist1h1b_T_135</text>
<text x="314.20" y="136.55" font-size="8" font-weight="normal" text-anchor="start" fill="#000" stroke="#000" stroke-width="0.15" >Hist1h1b_T_135_2</text>
<text x="314.20" y="143.85" font-size="8" font-weight="normal" text-anchor="start" fill="#000" stroke="#000" stroke-width="0.15" >Tpi1_S_165</text>
<text x="314.20" y="151.05" font-size="8" font-weight="normal" text-anchor="start" fill="#000" stroke="#000" stroke-width="0.15" >Tpi1_S_165_2</text>
<text x="314.20" y="158.15" font-size="8" font-weight="normal" text-anchor="start" fill="#000" stroke="#000" stroke-width="0.15" >Svs6_S_76</text>
<text x="314.20" y="165.25" font-size="8" font-weight="normal" text-anchor="start" fill="#000" stroke="#000" stroke-width="0.15" >Svs6_S_76_2</text>
<text x="314.20" y="176.00" font-size="8" font-weight="normal" text-anchor="start" fill="#000" stroke="#000" stroke-width="0.15" >Abl2_S_819</text>
<text x="314.20" y="184.45" font-size="8" font-weight="normal" text-anchor="start" fill="#000" stroke="#000" stroke-width="0.15" >Nefh_S_523,529</text>
<text x="314.20" y="192.95" font-size="8" font-weight="normal" text-anchor="start" fill="#000" stroke="#000" stroke-width="0.15" >Nefm_S_723</text>
<text x="314.20" y="201.65" font-size="8" font-weight="normal" text-anchor="start" fill="#000" stroke="#000" stroke-width="0.15" >Nefh_S_673</text>
<text x="314.20" y="210.10" font-size="8" font-weight="normal" text-anchor="start" fill="#000" stroke="#000" stroke-width="0.15" >Nefh_S_673_2</text>
<text x="314.20" y="218.25" font-size="8" font-weight="normal" text-anchor="start" fill="#000" stroke="#000" stroke-width="0.15" >Ttn_S_21621</text>
<text x="314.20" y="226.80" font-size="8" font-weight="normal" text-anchor="start" fill="#000" stroke="#000" stroke-width="0.15" >Ttn_T_22279</text>
<text x="314.20" y="235.40" font-size="8" font-weight="normal" text-anchor="start" fill="#000" stroke="#000" stroke-width="0.15" >Ubxn6_S_78</text>
<text x="314.20" y="243.10" font-size="8" font-weight="normal" text-anchor="start" fill="#000" stroke="#000" stroke-width="0.15" >Speg_S_614</text>
<text x="314.20" y="250.20" font-size="8" font-weight="normal" text-anchor="start" fill="#000" stroke="#000" stroke-width="0.15" >Speg_S_614_2</text>
<text transform="translate(210.58,254.40) rotate(-90)" font-size="8.3" text-anchor="end" stroke="#000" stroke-width="0.15">SOL</text>
<text transform="translate(219.12,254.40) rotate(-90)" font-size="8.3" text-anchor="end" stroke="#000" stroke-width="0.15">TA</text>
<text transform="translate(227.68,254.40) rotate(-90)" font-size="8.3" text-anchor="end" stroke="#000" stroke-width="0.15">TRI</text>
<text transform="translate(236.23,254.40) rotate(-90)" font-size="8.3" text-anchor="end" stroke="#000" stroke-width="0.15">GAS</text>
<text transform="translate(247.38,254.40) rotate(-90)" font-size="8.3" text-anchor="end" stroke="#000" stroke-width="0.15">SOL</text>
<text transform="translate(255.92,254.40) rotate(-90)" font-size="8.3" text-anchor="end" stroke="#000" stroke-width="0.15">TA</text>
<text transform="translate(264.47,254.40) rotate(-90)" font-size="8.3" text-anchor="end" stroke="#000" stroke-width="0.15">TRI</text>
<text transform="translate(273.02,254.40) rotate(-90)" font-size="8.3" text-anchor="end" stroke="#000" stroke-width="0.15">GAS</text>
<text transform="translate(284.07,254.40) rotate(-90)" font-size="8.3" text-anchor="end" stroke="#000" stroke-width="0.15">SOL</text>
<text transform="translate(292.62,254.40) rotate(-90)" font-size="8.3" text-anchor="end" stroke="#000" stroke-width="0.15">TA</text>
<text transform="translate(301.17,254.40) rotate(-90)" font-size="8.3" text-anchor="end" stroke="#000" stroke-width="0.15">TRI</text>
<text transform="translate(309.72,254.40) rotate(-90)" font-size="8.3" text-anchor="end" stroke="#000" stroke-width="0.15">GAS</text>
<text x="222.60" y="8.60" font-size="10.5" font-weight="bold" text-anchor="middle" fill="#000" stroke="#000" stroke-width="0.1" >AGE</text>
<text x="258.40" y="8.60" font-size="10.5" font-weight="bold" text-anchor="middle" fill="#000" stroke="#000" stroke-width="0.1" >CR</text>
<text x="295.50" y="8.60" font-size="10.5" font-weight="bold" text-anchor="middle" fill="#000" stroke="#000" stroke-width="0.1" >RM</text>
<rect x="25.20" y="321.00" width="9.25" height="9.00" fill="#978abd"/>
<rect x="33.75" y="321.00" width="9.25" height="9.00" fill="#5f5fa2"/>
<rect x="42.30" y="321.00" width="9.25" height="9.00" fill="#8c7fb6"/>
<rect x="50.85" y="321.00" width="8.55" height="9.00" fill="#786dab"/>
<rect x="61.10" y="321.00" width="9.25" height="9.00" fill="#f9e0d6"/>
<rect x="69.65" y="321.00" width="9.25" height="9.00" fill="#786dab"/>
<rect x="78.20" y="321.00" width="9.25" height="9.00" fill="#e8e1ee"/>
<rect x="86.75" y="321.00" width="8.55" height="9.00" fill="#7068a6"/>
<rect x="97.30" y="321.00" width="9.25" height="9.00" fill="#e92434"/>
<rect x="105.85" y="321.00" width="9.25" height="9.00" fill="#e95041"/>
<rect x="114.40" y="321.00" width="9.25" height="9.00" fill="#e92434"/>
<rect x="122.95" y="321.00" width="8.55" height="9.00" fill="#ea7259"/>
<rect x="25.20" y="333.10" width="9.25" height="9.80" fill="#e92434"/>
<rect x="33.75" y="333.10" width="9.25" height="9.80" fill="#e92434"/>
<rect x="42.30" y="333.10" width="9.25" height="9.80" fill="#e92434"/>
<rect x="50.85" y="333.10" width="8.55" height="9.80" fill="#eea086"/>
<rect x="61.10" y="333.10" width="9.25" height="9.80" fill="#355ca8"/>
<rect x="69.65" y="333.10" width="9.25" height="9.80" fill="#e92434"/>
<rect x="78.20" y="333.10" width="9.25" height="9.80" fill="#355ca8"/>
<rect x="86.75" y="333.10" width="8.55" height="9.80" fill="#355ca8"/>
<rect x="97.30" y="333.10" width="9.25" height="9.80" fill="#355ca8"/>
<rect x="105.85" y="333.10" width="9.25" height="9.80" fill="#355ca8"/>
<rect x="114.40" y="333.10" width="9.25" height="9.80" fill="#355ca8"/>
<rect x="122.95" y="333.10" width="8.55" height="9.80" fill="#355ca8"/>
<rect x="25.20" y="342.20" width="9.25" height="9.70" fill="#e92434"/>
<rect x="33.75" y="342.20" width="9.25" height="9.70" fill="#e9453c"/>
<rect x="42.30" y="342.20" width="9.25" height="9.70" fill="#e92434"/>
<rect x="50.85" y="342.20" width="8.55" height="9.70" fill="#e95041"/>
<rect x="61.10" y="342.20" width="9.25" height="9.70" fill="#355ca8"/>
<rect x="69.65" y="342.20" width="9.25" height="9.70" fill="#a396c4"/>
<rect x="78.20" y="342.20" width="9.25" height="9.70" fill="#4c5aa2"/>
<rect x="86.75" y="342.20" width="8.55" height="9.70" fill="#e2d9ea"/>
<rect x="97.30" y="342.20" width="9.25" height="9.70" fill="#a396c4"/>
<rect x="105.85" y="342.20" width="9.25" height="9.70" fill="#786dab"/>
<rect x="114.40" y="342.20" width="9.25" height="9.70" fill="#355ca8"/>
<rect x="122.95" y="342.20" width="8.55" height="9.70" fill="#6862a2"/>
<rect x="25.20" y="351.20" width="9.25" height="9.40" fill="#e92434"/>
<rect x="33.75" y="351.20" width="9.25" height="9.40" fill="#e92434"/>
<rect x="42.30" y="351.20" width="9.25" height="9.40" fill="#ec8e73"/>
<rect x="50.85" y="351.20" width="8.55" height="9.40" fill="#ea6850"/>
<rect x="61.10" y="351.20" width="9.25" height="9.40" fill="#355ca8"/>
<rect x="69.65" y="351.20" width="9.25" height="9.40" fill="#355ca8"/>
<rect x="78.20" y="351.20" width="9.25" height="9.40" fill="#c4b6d7"/>
<rect x="86.75" y="351.20" width="8.55" height="9.40" fill="#e95041"/>
<rect x="97.30" y="351.20" width="9.25" height="9.40" fill="#355ca8"/>
<rect x="105.85" y="351.20" width="9.25" height="9.40" fill="#9386ba"/>
<rect x="114.40" y="351.20" width="9.25" height="9.40" fill="#9386ba"/>
<rect x="122.95" y="351.20" width="8.55" height="9.40" fill="#8c7fb6"/>
<rect x="25.20" y="359.90" width="9.25" height="9.40" fill="#e92434"/>
<rect x="33.75" y="359.90" width="9.25" height="9.40" fill="#e92434"/>
<rect x="42.30" y="359.90" width="9.25" height="9.40" fill="#ea6850"/>
<rect x="50.85" y="359.90" width="8.55" height="9.40" fill="#eb856a"/>
<rect x="61.10" y="359.90" width="9.25" height="9.40" fill="#6862a2"/>
<rect x="69.65" y="359.90" width="9.25" height="9.40" fill="#ea7259"/>
<rect x="78.20" y="359.90" width="9.25" height="9.40" fill="#355ca8"/>
<rect x="86.75" y="359.90" width="8.55" height="9.40" fill="#355ca8"/>
<rect x="97.30" y="359.90" width="9.25" height="9.40" fill="#355ca8"/>
<rect x="105.85" y="359.90" width="9.25" height="9.40" fill="#7068a6"/>
<rect x="114.40" y="359.90" width="9.25" height="9.40" fill="#355ca8"/>
<rect x="122.95" y="359.90" width="8.55" height="9.40" fill="#355ca8"/>
<rect x="25.20" y="368.60" width="9.25" height="9.50" fill="#ea6850"/>
<rect x="33.75" y="368.60" width="9.25" height="9.50" fill="#ea6850"/>
<rect x="42.30" y="368.60" width="9.25" height="9.50" fill="#e9453c"/>
<rect x="50.85" y="368.60" width="8.55" height="9.50" fill="#e95041"/>
<rect x="61.10" y="368.60" width="9.25" height="9.50" fill="#ec8e73"/>
<rect x="69.65" y="368.60" width="9.25" height="9.50" fill="#f7d7ca"/>
<rect x="78.20" y="368.60" width="9.25" height="9.50" fill="#535ca2"/>
<rect x="86.75" y="368.60" width="8.55" height="9.50" fill="#355ca8"/>
<rect x="97.30" y="368.60" width="9.25" height="9.50" fill="#355ca8"/>
<rect x="105.85" y="368.60" width="9.25" height="9.50" fill="#355ca8"/>
<rect x="114.40" y="368.60" width="9.25" height="9.50" fill="#355ca8"/>
<rect x="122.95" y="368.60" width="8.55" height="9.50" fill="#4c5aa2"/>
<rect x="25.20" y="377.40" width="9.25" height="9.00" fill="#e92434"/>
<rect x="33.75" y="377.40" width="9.25" height="9.00" fill="#ea6850"/>
<rect x="42.30" y="377.40" width="9.25" height="9.00" fill="#e92434"/>
<rect x="50.85" y="377.40" width="8.55" height="9.00" fill="#e92434"/>
<rect x="61.10" y="377.40" width="9.25" height="9.00" fill="#e92434"/>
<rect x="69.65" y="377.40" width="9.25" height="9.00" fill="#355ca8"/>
<rect x="78.20" y="377.40" width="9.25" height="9.00" fill="#f3c4b2"/>
<rect x="86.75" y="377.40" width="8.55" height="9.00" fill="#355ca8"/>
<rect x="97.30" y="377.40" width="9.25" height="9.00" fill="#355ca8"/>
<rect x="105.85" y="377.40" width="9.25" height="9.00" fill="#535ca2"/>
<rect x="114.40" y="377.40" width="9.25" height="9.00" fill="#355ca8"/>
<rect x="122.95" y="377.40" width="8.55" height="9.00" fill="#355ca8"/>
<rect x="25.20" y="385.70" width="9.25" height="8.60" fill="#e9453c"/>
<rect x="33.75" y="385.70" width="9.25" height="8.60" fill="#e92434"/>
<rect x="42.30" y="385.70" width="9.25" height="8.60" fill="#f9e0d6"/>
<rect x="50.85" y="385.70" width="8.55" height="8.60" fill="#eb7b61"/>
<rect x="61.10" y="385.70" width="9.25" height="8.60" fill="#7068a6"/>
<rect x="69.65" y="385.70" width="9.25" height="8.60" fill="#355ca8"/>
<rect x="78.20" y="385.70" width="9.25" height="8.60" fill="#eea086"/>
<rect x="86.75" y="385.70" width="8.55" height="8.60" fill="#e92434"/>
<rect x="97.30" y="385.70" width="9.25" height="8.60" fill="#7068a6"/>
<rect x="105.85" y="385.70" width="9.25" height="8.60" fill="#535ca2"/>
<rect x="114.40" y="385.70" width="9.25" height="8.60" fill="#355ca8"/>
<rect x="122.95" y="385.70" width="8.55" height="8.60" fill="#e95041"/>
<text x="133.10" y="328.00" font-size="8" font-weight="normal" text-anchor="start" fill="#000" stroke="#000" stroke-width="0.15" >Synm_S_1502</text>
<text x="133.10" y="340.05" font-size="8" font-weight="normal" text-anchor="start" fill="#000" stroke="#000" stroke-width="0.15" >Atp2a1_T_532</text>
<text x="133.10" y="349.10" font-size="8" font-weight="normal" text-anchor="start" fill="#000" stroke="#000" stroke-width="0.15" >Dmd_S_1444</text>
<text x="133.10" y="357.95" font-size="8" font-weight="normal" text-anchor="start" fill="#000" stroke="#000" stroke-width="0.15" >Prdx5_S_60</text>
<text x="133.10" y="366.65" font-size="8" font-weight="normal" text-anchor="start" fill="#000" stroke="#000" stroke-width="0.15" >Tbc1d4_S_616</text>
<text x="133.10" y="375.40" font-size="8" font-weight="normal" text-anchor="start" fill="#000" stroke="#000" stroke-width="0.15" >Wapal_S_17</text>
<text x="133.10" y="383.95" font-size="8" font-weight="normal" text-anchor="start" fill="#000" stroke="#000" stroke-width="0.15" >Pnisr_S_211</text>
<text x="133.10" y="392.40" font-size="8" font-weight="normal" text-anchor="start" fill="#000" stroke="#000" stroke-width="0.15" >Pnisr_S_211_2</text>
<text transform="translate(31.88,396.00) rotate(-90)" font-size="8.3" text-anchor="end" stroke="#000" stroke-width="0.15">SOL</text>
<text transform="translate(40.42,396.00) rotate(-90)" font-size="8.3" text-anchor="end" stroke="#000" stroke-width="0.15">TA</text>
<text transform="translate(48.98,396.00) rotate(-90)" font-size="8.3" text-anchor="end" stroke="#000" stroke-width="0.15">TRI</text>
<text transform="translate(57.52,396.00) rotate(-90)" font-size="8.3" text-anchor="end" stroke="#000" stroke-width="0.15">GAS</text>
<text transform="translate(67.78,396.00) rotate(-90)" font-size="8.3" text-anchor="end" stroke="#000" stroke-width="0.15">SOL</text>
<text transform="translate(76.33,396.00) rotate(-90)" font-size="8.3" text-anchor="end" stroke="#000" stroke-width="0.15">TA</text>
<text transform="translate(84.88,396.00) rotate(-90)" font-size="8.3" text-anchor="end" stroke="#000" stroke-width="0.15">TRI</text>
<text transform="translate(93.43,396.00) rotate(-90)" font-size="8.3" text-anchor="end" stroke="#000" stroke-width="0.15">GAS</text>
<text transform="translate(103.98,396.00) rotate(-90)" font-size="8.3" text-anchor="end" stroke="#000" stroke-width="0.15">SOL</text>
<text transform="translate(112.53,396.00) rotate(-90)" font-size="8.3" text-anchor="end" stroke="#000" stroke-width="0.15">TA</text>
<text transform="translate(121.08,396.00) rotate(-90)" font-size="8.3" text-anchor="end" stroke="#000" stroke-width="0.15">TRI</text>
<text transform="translate(129.62,396.00) rotate(-90)" font-size="8.3" text-anchor="end" stroke="#000" stroke-width="0.15">GAS</text>
<text x="42.80" y="318.60" font-size="10.5" font-weight="bold" text-anchor="middle" fill="#000" stroke="#000" stroke-width="0.1" >AGE</text>
<text x="78.00" y="318.60" font-size="10.5" font-weight="bold" text-anchor="middle" fill="#000" stroke="#000" stroke-width="0.1" >CR</text>
<text x="116.10" y="318.60" font-size="10.5" font-weight="bold" text-anchor="middle" fill="#000" stroke="#000" stroke-width="0.1" >RM</text>
<rect x="202.60" y="296.60" width="9.55" height="9.00" fill="#e92434"/>
<rect x="211.45" y="296.60" width="9.55" height="9.00" fill="#e92434"/>
<rect x="220.30" y="296.60" width="9.55" height="9.00" fill="#e2d9ea"/>
<rect x="229.15" y="296.60" width="8.85" height="9.00" fill="#e95041"/>
<rect x="241.00" y="296.60" width="9.55" height="9.00" fill="#355ca8"/>
<rect x="249.85" y="296.60" width="9.55" height="9.00" fill="#355ca8"/>
<rect x="258.70" y="296.60" width="9.55" height="9.00" fill="#535ca2"/>
<rect x="267.55" y="296.60" width="8.85" height="9.00" fill="#355ca8"/>
<rect x="279.40" y="296.60" width="9.55" height="9.00" fill="#355ca8"/>
<rect x="288.25" y="296.60" width="9.55" height="9.00" fill="#355ca8"/>
<rect x="297.10" y="296.60" width="9.55" height="9.00" fill="#355ca8"/>
<rect x="305.95" y="296.60" width="8.85" height="9.00" fill="#355ca8"/>
<rect x="202.60" y="304.90" width="9.55" height="8.90" fill="#355ca8"/>
<rect x="211.45" y="304.90" width="9.55" height="8.90" fill="#e92434"/>
<rect x="220.30" y="304.90" width="9.55" height="8.90" fill="#d4c9e1"/>
<rect x="229.15" y="304.90" width="8.85" height="8.90" fill="#e92434"/>
<rect x="241.00" y="304.90" width="9.55" height="8.90" fill="#535ca2"/>
<rect x="249.85" y="304.90" width="9.55" height="8.90" fill="#355ca8"/>
<rect x="258.70" y="304.90" width="9.55" height="8.90" fill="#355ca8"/>
<rect x="267.55" y="304.90" width="8.85" height="8.90" fill="#355ca8"/>
<rect x="279.40" y="304.90" width="9.55" height="8.90" fill="#355ca8"/>
<rect x="288.25" y="304.90" width="9.55" height="8.90" fill="#7068a6"/>
<rect x="297.10" y="304.90" width="9.55" height="8.90" fill="#355ca8"/>
<rect x="305.95" y="304.90" width="8.85" height="8.90" fill="#355ca8"/>
<rect x="202.60" y="313.10" width="9.55" height="8.50" fill="#fae6de"/>
<rect x="211.45" y="313.10" width="9.55" height="8.50" fill="#eb7b61"/>
<rect x="220.30" y="313.10" width="9.55" height="8.50" fill="#ffffff"/>
<rect x="229.15" y="313.10" width="8.85" height="8.50" fill="#eea086"/>
<rect x="241.00" y="313.10" width="9.55" height="8.50" fill="#978abd"/>
<rect x="249.85" y="313.10" width="9.55" height="8.50" fill="#6862a2"/>
<rect x="258.70" y="313.10" width="9.55" height="8.50" fill="#6862a2"/>
<rect x="267.55" y="313.10" width="8.85" height="8.50" fill="#355ca8"/>
<rect x="279.40" y="313.10" width="9.55" height="8.50" fill="#6862a2"/>
<rect x="288.25" y="313.10" width="9.55" height="8.50" fill="#6d65a5"/>
<rect x="297.10" y="313.10" width="9.55" height="8.50" fill="#8073af"/>
<rect x="305.95" y="313.10" width="8.85" height="8.50" fill="#8073af"/>
<rect x="202.60" y="320.90" width="9.55" height="8.50" fill="#ea6850"/>
<rect x="211.45" y="320.90" width="9.55" height="8.50" fill="#e92434"/>
<rect x="220.30" y="320.90" width="9.55" height="8.50" fill="#ec8e73"/>
<rect x="229.15" y="320.90" width="8.85" height="8.50" fill="#355ca8"/>
<rect x="241.00" y="320.90" width="9.55" height="8.50" fill="#f9e0d6"/>
<rect x="249.85" y="320.90" width="9.55" height="8.50" fill="#355ca8"/>
<rect x="258.70" y="320.90" width="9.55" height="8.50" fill="#535ca2"/>
<rect x="267.55" y="320.90" width="8.85" height="8.50" fill="#355ca8"/>
<rect x="279.40" y="320.90" width="9.55" height="8.50" fill="#355ca8"/>
<rect x="288.25" y="320.90" width="9.55" height="8.50" fill="#355ca8"/>
<rect x="297.10" y="320.90" width="9.55" height="8.50" fill="#355ca8"/>
<rect x="305.95" y="320.90" width="8.85" height="8.50" fill="#355ca8"/>
<rect x="202.60" y="328.70" width="9.55" height="7.20" fill="#e92434"/>
<rect x="211.45" y="328.70" width="9.55" height="7.20" fill="#e92434"/>
<rect x="220.30" y="328.70" width="9.55" height="7.20" fill="#ea6850"/>
<rect x="229.15" y="328.70" width="8.85" height="7.20" fill="#f3c4b2"/>
<rect x="241.00" y="328.70" width="9.55" height="7.20" fill="#355ca8"/>
<rect x="249.85" y="328.70" width="9.55" height="7.20" fill="#355ca8"/>
<rect x="258.70" y="328.70" width="9.55" height="7.20" fill="#8c7fb6"/>
<rect x="267.55" y="328.70" width="8.85" height="7.20" fill="#7068a6"/>
<rect x="279.40" y="328.70" width="9.55" height="7.20" fill="#355ca8"/>
<rect x="288.25" y="328.70" width="9.55" height="7.20" fill="#355ca8"/>
<rect x="297.10" y="328.70" width="9.55" height="7.20" fill="#355ca8"/>
<rect x="305.95" y="328.70" width="8.85" height="7.20" fill="#e92434"/>
<rect x="202.60" y="338.10" width="9.55" height="8.75" fill="#355ca8"/>
<rect x="211.45" y="338.10" width="9.55" height="8.75" fill="#e92434"/>
<rect x="220.30" y="338.10" width="9.55" height="8.75" fill="#355ca8"/>
<rect x="229.15" y="338.10" width="8.85" height="8.75" fill="#355ca8"/>
<rect x="241.00" y="338.10" width="9.55" height="8.75" fill="#e92434"/>
<rect x="249.85" y="338.10" width="9.55" height="8.75" fill="#e92434"/>
<rect x="258.70" y="338.10" width="9.55" height="8.75" fill="#e92434"/>
<rect x="267.55" y="338.10" width="8.85" height="8.75" fill="#e92434"/>
<rect x="279.40" y="338.10" width="9.55" height="8.75" fill="#e92434"/>
<rect x="288.25" y="338.10" width="9.55" height="8.75" fill="#e92434"/>
<rect x="297.10" y="338.10" width="9.55" height="8.75" fill="#e92434"/>
<rect x="305.95" y="338.10" width="8.85" height="8.75" fill="#e92434"/>
<rect x="202.60" y="346.15" width="9.55" height="8.75" fill="#b9abd1"/>
<rect x="211.45" y="346.15" width="9.55" height="8.75" fill="#b9abd1"/>
<rect x="220.30" y="346.15" width="9.55" height="8.75" fill="#978abd"/>
<rect x="229.15" y="346.15" width="8.85" height="8.75" fill="#fae6de"/>
<rect x="241.00" y="346.15" width="9.55" height="8.75" fill="#eb7b61"/>
<rect x="249.85" y="346.15" width="9.55" height="8.75" fill="#ed977d"/>
<rect x="258.70" y="346.15" width="9.55" height="8.75" fill="#eb7b61"/>
<rect x="267.55" y="346.15" width="8.85" height="8.75" fill="#eb7b61"/>
<rect x="279.40" y="346.15" width="9.55" height="8.75" fill="#eb856a"/>
<rect x="288.25" y="346.15" width="9.55" height="8.75" fill="#ea7259"/>
<rect x="297.10" y="346.15" width="9.55" height="8.75" fill="#ec8e73"/>
<rect x="305.95" y="346.15" width="8.85" height="8.75" fill="#e92434"/>
<rect x="202.60" y="354.20" width="9.55" height="8.75" fill="#b9abd1"/>
<rect x="211.45" y="354.20" width="9.55" height="8.75" fill="#355ca8"/>
<rect x="220.30" y="354.20" width="9.55" height="8.75" fill="#eb7b61"/>
<rect x="229.15" y="354.20" width="8.85" height="8.75" fill="#e92434"/>
<rect x="241.00" y="354.20" width="9.55" height="8.75" fill="#e92434"/>
<rect x="249.85" y="354.20" width="9.55" height="8.75" fill="#ed977d"/>
<rect x="258.70" y="354.20" width="9.55" height="8.75" fill="#e95041"/>
<rect x="267.55" y="354.20" width="8.85" height="8.75" fill="#e92434"/>
<rect x="279.40" y="354.20" width="9.55" height="8.75" fill="#eb856a"/>
<rect x="288.25" y="354.20" width="9.55" height="8.75" fill="#e92434"/>
<rect x="297.10" y="354.20" width="9.55" height="8.75" fill="#e92434"/>
<rect x="305.95" y="354.20" width="8.85" height="8.75" fill="#eb856a"/>
<rect x="202.60" y="362.25" width="9.55" height="8.75" fill="#ed977d"/>
<rect x="211.45" y="362.25" width="9.55" height="8.75" fill="#7068a6"/>
<rect x="220.30" y="362.25" width="9.55" height="8.75" fill="#ea6850"/>
<rect x="229.15" y="362.25" width="8.85" height="8.75" fill="#fbeae4"/>
<rect x="241.00" y="362.25" width="9.55" height="8.75" fill="#e92434"/>
<rect x="249.85" y="362.25" width="9.55" height="8.75" fill="#e92434"/>
<rect x="258.70" y="362.25" width="9.55" height="8.75" fill="#e95041"/>
<rect x="267.55" y="362.25" width="8.85" height="8.75" fill="#e92434"/>
<rect x="279.40" y="362.25" width="9.55" height="8.75" fill="#ea7259"/>
<rect x="288.25" y="362.25" width="9.55" height="8.75" fill="#ed977d"/>
<rect x="297.10" y="362.25" width="9.55" height="8.75" fill="#e92434"/>
<rect x="305.95" y="362.25" width="8.85" height="8.75" fill="#e92434"/>
<rect x="202.60" y="370.30" width="9.55" height="8.75" fill="#e8e1ee"/>
<rect x="211.45" y="370.30" width="9.55" height="8.75" fill="#355ca8"/>
<rect x="220.30" y="370.30" width="9.55" height="8.75" fill="#ec8e73"/>
<rect x="229.15" y="370.30" width="8.85" height="8.75" fill="#f7d7ca"/>
<rect x="241.00" y="370.30" width="9.55" height="8.75" fill="#e92434"/>
<rect x="249.85" y="370.30" width="9.55" height="8.75" fill="#e92434"/>
<rect x="258.70" y="370.30" width="9.55" height="8.75" fill="#e92434"/>
<rect x="267.55" y="370.30" width="8.85" height="8.75" fill="#ea6850"/>
<rect x="279.40" y="370.30" width="9.55" height="8.75" fill="#e92434"/>
<rect x="288.25" y="370.30" width="9.55" height="8.75" fill="#ea7259"/>
<rect x="297.10" y="370.30" width="9.55" height="8.75" fill="#ea7259"/>
<rect x="305.95" y="370.30" width="8.85" height="8.75" fill="#e92434"/>
<rect x="202.60" y="378.35" width="9.55" height="8.75" fill="#355ca8"/>
<rect x="211.45" y="378.35" width="9.55" height="8.75" fill="#355ca8"/>
<rect x="220.30" y="378.35" width="9.55" height="8.75" fill="#355ca8"/>
<rect x="229.15" y="378.35" width="8.85" height="8.75" fill="#ea6850"/>
<rect x="241.00" y="378.35" width="9.55" height="8.75" fill="#e92434"/>
<rect x="249.85" y="378.35" width="9.55" height="8.75" fill="#e92434"/>
<rect x="258.70" y="378.35" width="9.55" height="8.75" fill="#e92434"/>
<rect x="267.55" y="378.35" width="8.85" height="8.75" fill="#e92434"/>
<rect x="279.40" y="378.35" width="9.55" height="8.75" fill="#e92434"/>
<rect x="288.25" y="378.35" width="9.55" height="8.75" fill="#e92434"/>
<rect x="297.10" y="378.35" width="9.55" height="8.75" fill="#e92434"/>
<rect x="305.95" y="378.35" width="8.85" height="8.75" fill="#e95041"/>
<rect x="202.60" y="386.40" width="9.55" height="8.75" fill="#e2d9ea"/>
<rect x="211.45" y="386.40" width="9.55" height="8.75" fill="#978abd"/>
<rect x="220.30" y="386.40" width="9.55" height="8.75" fill="#355ca8"/>
<rect x="229.15" y="386.40" width="8.85" height="8.75" fill="#535ca2"/>
<rect x="241.00" y="386.40" width="9.55" height="8.75" fill="#e92434"/>
<rect x="249.85" y="386.40" width="9.55" height="8.75" fill="#e92434"/>
<rect x="258.70" y="386.40" width="9.55" height="8.75" fill="#e92434"/>
<rect x="267.55" y="386.40" width="8.85" height="8.75" fill="#ea6850"/>
<rect x="279.40" y="386.40" width="9.55" height="8.75" fill="#e92434"/>
<rect x="288.25" y="386.40" width="9.55" height="8.75" fill="#eea086"/>
<rect x="297.10" y="386.40" width="9.55" height="8.75" fill="#e95041"/>
<rect x="305.95" y="386.40" width="8.85" height="8.75" fill="#e92434"/>
<rect x="202.60" y="394.45" width="9.55" height="8.75" fill="#355ca8"/>
<rect x="211.45" y="394.45" width="9.55" height="8.75" fill="#355ca8"/>
<rect x="220.30" y="394.45" width="9.55" height="8.75" fill="#355ca8"/>
<rect x="229.15" y="394.45" width="8.85" height="8.75" fill="#e92434"/>
<rect x="241.00" y="394.45" width="9.55" height="8.75" fill="#ed977d"/>
<rect x="249.85" y="394.45" width="9.55" height="8.75" fill="#e92434"/>
<rect x="258.70" y="394.45" width="9.55" height="8.75" fill="#e92434"/>
<rect x="267.55" y="394.45" width="8.85" height="8.75" fill="#e92434"/>
<rect x="279.40" y="394.45" width="9.55" height="8.75" fill="#eea086"/>
<rect x="288.25" y="394.45" width="9.55" height="8.75" fill="#e92434"/>
<rect x="297.10" y="394.45" width="9.55" height="8.75" fill="#ffffff"/>
<rect x="305.95" y="394.45" width="8.85" height="8.75" fill="#e92434"/>
<rect x="202.60" y="402.50" width="9.55" height="8.75" fill="#355ca8"/>
<rect x="211.45" y="402.50" width="9.55" height="8.75" fill="#355ca8"/>
<rect x="220.30" y="402.50" width="9.55" height="8.75" fill="#355ca8"/>
<rect x="229.15" y="402.50" width="8.85" height="8.75" fill="#e92434"/>
<rect x="241.00" y="402.50" width="9.55" height="8.75" fill="#e92434"/>
<rect x="249.85" y="402.50" width="9.55" height="8.75" fill="#e92434"/>
<rect x="258.70" y="402.50" width="9.55" height="8.75" fill="#ea5d49"/>
<rect x="267.55" y="402.50" width="8.85" height="8.75" fill="#e92434"/>
<rect x="279.40" y="402.50" width="9.55" height="8.75" fill="#355ca8"/>
<rect x="288.25" y="402.50" width="9.55" height="8.75" fill="#e92434"/>
<rect x="297.10" y="402.50" width="9.55" height="8.75" fill="#e92434"/>
<rect x="305.95" y="402.50" width="8.85" height="8.75" fill="#e92434"/>
<rect x="202.60" y="410.55" width="9.55" height="8.75" fill="#355ca8"/>
<rect x="211.45" y="410.55" width="9.55" height="8.75" fill="#355ca8"/>
<rect x="220.30" y="410.55" width="9.55" height="8.75" fill="#355ca8"/>
<rect x="229.15" y="410.55" width="8.85" height="8.75" fill="#ed977d"/>
<rect x="241.00" y="410.55" width="9.55" height="8.75" fill="#e92434"/>
<rect x="249.85" y="410.55" width="9.55" height="8.75" fill="#e92434"/>
<rect x="258.70" y="410.55" width="9.55" height="8.75" fill="#e92434"/>
<rect x="267.55" y="410.55" width="8.85" height="8.75" fill="#e92434"/>
<rect x="279.40" y="410.55" width="9.55" height="8.75" fill="#978abd"/>
<rect x="288.25" y="410.55" width="9.55" height="8.75" fill="#e95041"/>
<rect x="297.10" y="410.55" width="9.55" height="8.75" fill="#f9e0d6"/>
<rect x="305.95" y="410.55" width="8.85" height="8.75" fill="#e95041"/>
<rect x="202.60" y="418.60" width="9.55" height="8.75" fill="#355ca8"/>
<rect x="211.45" y="418.60" width="9.55" height="8.75" fill="#355ca8"/>
<rect x="220.30" y="418.60" width="9.55" height="8.75" fill="#6862a2"/>
<rect x="229.15" y="418.60" width="8.85" height="8.75" fill="#ea7259"/>
<rect x="241.00" y="418.60" width="9.55" height="8.75" fill="#ed977d"/>
<rect x="249.85" y="418.60" width="9.55" height="8.75" fill="#e92434"/>
<rect x="258.70" y="418.60" width="9.55" height="8.75" fill="#e92434"/>
<rect x="267.55" y="418.60" width="8.85" height="8.75" fill="#eb7b61"/>
<rect x="279.40" y="418.60" width="9.55" height="8.75" fill="#eb856a"/>
<rect x="288.25" y="418.60" width="9.55" height="8.75" fill="#e92434"/>
<rect x="297.10" y="418.60" width="9.55" height="8.75" fill="#e92434"/>
<rect x="305.95" y="418.60" width="8.85" height="8.75" fill="#ed977d"/>
<rect x="202.60" y="426.65" width="9.55" height="8.75" fill="#7068a6"/>
<rect x="211.45" y="426.65" width="9.55" height="8.75" fill="#355ca8"/>
<rect x="220.30" y="426.65" width="9.55" height="8.75" fill="#f1b8a3"/>
<rect x="229.15" y="426.65" width="8.85" height="8.75" fill="#f5cdbe"/>
<rect x="241.00" y="426.65" width="9.55" height="8.75" fill="#e95041"/>
<rect x="249.85" y="426.65" width="9.55" height="8.75" fill="#e92434"/>
<rect x="258.70" y="426.65" width="9.55" height="8.75" fill="#ed977d"/>
<rect x="267.55" y="426.65" width="8.85" height="8.75" fill="#e92434"/>
<rect x="279.40" y="426.65" width="9.55" height="8.75" fill="#eb856a"/>
<rect x="288.25" y="426.65" width="9.55" height="8.75" fill="#e92434"/>
<rect x="297.10" y="426.65" width="9.55" height="8.75" fill="#ed977d"/>
<rect x="305.95" y="426.65" width="8.85" height="8.75" fill="#ed977d"/>
<rect x="202.60" y="434.70" width="9.55" height="8.05" fill="#355ca8"/>
<rect x="211.45" y="434.70" width="9.55" height="8.05" fill="#535ca2"/>
<rect x="220.30" y="434.70" width="9.55" height="8.05" fill="#f9e0d6"/>
<rect x="229.15" y="434.70" width="8.85" height="8.05" fill="#f9e0d6"/>
<rect x="241.00" y="434.70" width="9.55" height="8.05" fill="#e92434"/>
<rect x="249.85" y="434.70" width="9.55" height="8.05" fill="#e92434"/>
<rect x="258.70" y="434.70" width="9.55" height="8.05" fill="#c4b6d7"/>
<rect x="267.55" y="434.70" width="8.85" height="8.05" fill="#f3f0f7"/>
<rect x="279.40" y="434.70" width="9.55" height="8.05" fill="#ed977d"/>
<rect x="288.25" y="434.70" width="9.55" height="8.05" fill="#eb856a"/>
<rect x="297.10" y="434.70" width="9.55" height="8.05" fill="#eb856a"/>
<rect x="305.95" y="434.70" width="8.85" height="8.05" fill="#ed977d"/>
<text x="315.80" y="302.45" font-size="8" font-weight="normal" text-anchor="start" fill="#000" stroke="#000" stroke-width="0.15" >Atp2a1_S_488</text>
<text x="315.80" y="310.70" font-size="8" font-weight="normal" text-anchor="start" fill="#000" stroke="#000" stroke-width="0.15" >Brwd1_S_897</text>
<text x="315.80" y="318.70" font-size="8" font-weight="normal" text-anchor="start" fill="#000" stroke="#000" stroke-width="0.15" >Ttn_S_30198</text>
<text x="315.80" y="326.50" font-size="8" font-weight="normal" text-anchor="start" fill="#000" stroke="#000" stroke-width="0.15" >Phka1_S_1019</text>
<text x="315.80" y="334.00" font-size="8" font-weight="normal" text-anchor="start" fill="#000" stroke="#000" stroke-width="0.15" >Phka1_S_1019_2</text>
<text x="315.80" y="344.43" font-size="8" font-weight="normal" text-anchor="start" fill="#000" stroke="#000" stroke-width="0.15" >Lmod2_S_515, T_519</text>
<text x="315.80" y="352.48" font-size="8" font-weight="normal" text-anchor="start" fill="#000" stroke="#000" stroke-width="0.15" >Bnip3_S_79</text>
<text x="315.80" y="360.53" font-size="8" font-weight="normal" text-anchor="start" fill="#000" stroke="#000" stroke-width="0.15" >Flnc_S_1537</text>
<text x="315.80" y="368.57" font-size="8" font-weight="normal" text-anchor="start" fill="#000" stroke="#000" stroke-width="0.15" >Krt83_S_489</text>
<text x="315.80" y="376.63" font-size="8" font-weight="normal" text-anchor="start" fill="#000" stroke="#000" stroke-width="0.15" >Mybph_T_13</text>
<text x="315.80" y="384.68" font-size="8" font-weight="normal" text-anchor="start" fill="#000" stroke="#000" stroke-width="0.15" >Nefm_S_715</text>
<text x="315.80" y="392.73" font-size="8" font-weight="normal" text-anchor="start" fill="#000" stroke="#000" stroke-width="0.15" >Nefm_S_715_2</text>
<text x="315.80" y="400.78" font-size="8" font-weight="normal" text-anchor="start" fill="#000" stroke="#000" stroke-width="0.15" >Nefm_S_715_3</text>
<text x="315.80" y="408.82" font-size="8" font-weight="normal" text-anchor="start" fill="#000" stroke="#000" stroke-width="0.15" >Nefm_S_715_4</text>
<text x="315.80" y="416.88" font-size="8" font-weight="normal" text-anchor="start" fill="#000" stroke="#000" stroke-width="0.15" >Nefm_S_715_5</text>
<text x="315.80" y="424.93" font-size="8" font-weight="normal" text-anchor="start" fill="#000" stroke="#000" stroke-width="0.15" >Pllp_S_9</text>
<text x="315.80" y="432.98" font-size="8" font-weight="normal" text-anchor="start" fill="#000" stroke="#000" stroke-width="0.15" >Prpf4b_S_328</text>
<text x="315.80" y="441.03" font-size="8" font-weight="normal" text-anchor="start" fill="#000" stroke="#000" stroke-width="0.15" >Prpf4b_S_328_2</text>
<text transform="translate(209.62,445.80) rotate(-90)" font-size="8.3" text-anchor="end" stroke="#000" stroke-width="0.15">SOL</text>
<text transform="translate(218.47,445.80) rotate(-90)" font-size="8.3" text-anchor="end" stroke="#000" stroke-width="0.15">TA</text>
<text transform="translate(227.32,445.80) rotate(-90)" font-size="8.3" text-anchor="end" stroke="#000" stroke-width="0.15">TRI</text>
<text transform="translate(236.17,445.80) rotate(-90)" font-size="8.3" text-anchor="end" stroke="#000" stroke-width="0.15">GAS</text>
<text transform="translate(248.03,445.80) rotate(-90)" font-size="8.3" text-anchor="end" stroke="#000" stroke-width="0.15">SOL</text>
<text transform="translate(256.88,445.80) rotate(-90)" font-size="8.3" text-anchor="end" stroke="#000" stroke-width="0.15">TA</text>
<text transform="translate(265.73,445.80) rotate(-90)" font-size="8.3" text-anchor="end" stroke="#000" stroke-width="0.15">TRI</text>
<text transform="translate(274.58,445.80) rotate(-90)" font-size="8.3" text-anchor="end" stroke="#000" stroke-width="0.15">GAS</text>
<text transform="translate(286.43,445.80) rotate(-90)" font-size="8.3" text-anchor="end" stroke="#000" stroke-width="0.15">SOL</text>
<text transform="translate(295.27,445.80) rotate(-90)" font-size="8.3" text-anchor="end" stroke="#000" stroke-width="0.15">TA</text>
<text transform="translate(304.12,445.80) rotate(-90)" font-size="8.3" text-anchor="end" stroke="#000" stroke-width="0.15">TRI</text>
<text transform="translate(312.98,445.80) rotate(-90)" font-size="8.3" text-anchor="end" stroke="#000" stroke-width="0.15">GAS</text>
<text x="221.90" y="294.60" font-size="10.5" font-weight="bold" text-anchor="middle" fill="#000" stroke="#000" stroke-width="0.1" >AGE</text>
<text x="258.60" y="294.60" font-size="10.5" font-weight="bold" text-anchor="middle" fill="#000" stroke="#000" stroke-width="0.1" >CR</text>
<text x="296.80" y="294.60" font-size="10.5" font-weight="bold" text-anchor="middle" fill="#000" stroke="#000" stroke-width="0.1" >RM</text>
<defs><linearGradient id="lfc" x1="0" y1="0" x2="1" y2="0">
<stop offset="0.000" stop-color="#e92434"/>
<stop offset="0.025" stop-color="#e93538"/>
<stop offset="0.050" stop-color="#e9453c"/>
<stop offset="0.075" stop-color="#e95242"/>
<stop offset="0.100" stop-color="#ea5d49"/>
<stop offset="0.125" stop-color="#ea6850"/>
<stop offset="0.150" stop-color="#ea7259"/>
<stop offset="0.175" stop-color="#eb7b61"/>
<stop offset="0.200" stop-color="#eb856a"/>
<stop offset="0.225" stop-color="#ec8e73"/>
<stop offset="0.250" stop-color="#ed977d"/>
<stop offset="0.275" stop-color="#eea086"/>
<stop offset="0.300" stop-color="#f0ac95"/>
<stop offset="0.325" stop-color="#f1b8a3"/>
<stop offset="0.350" stop-color="#f3c4b2"/>
<stop offset="0.375" stop-color="#f5cdbe"/>
<stop offset="0.400" stop-color="#f7d7ca"/>
<stop offset="0.425" stop-color="#f9e0d6"/>
<stop offset="0.450" stop-color="#fbeae4"/>
<stop offset="0.475" stop-color="#fdf5f1"/>
<stop offset="0.500" stop-color="#ffffff"/>
<stop offset="0.525" stop-color="#f5f2f8"/>
<stop offset="0.550" stop-color="#ece6f1"/>
<stop offset="0.575" stop-color="#e2d9ea"/>
<stop offset="0.600" stop-color="#d8cde4"/>
<stop offset="0.625" stop-color="#cec2dd"/>
<stop offset="0.650" stop-color="#c4b6d7"/>
<stop offset="0.675" stop-color="#b9abd1"/>
<stop offset="0.700" stop-color="#aea1ca"/>
<stop offset="0.725" stop-color="#a396c4"/>
<stop offset="0.750" stop-color="#978abd"/>
<stop offset="0.775" stop-color="#8c7fb6"/>
<stop offset="0.800" stop-color="#8073af"/>
<stop offset="0.825" stop-color="#786dab"/>
<stop offset="0.850" stop-color="#7068a6"/>
<stop offset="0.875" stop-color="#6862a2"/>
<stop offset="0.900" stop-color="#5f5fa2"/>
<stop offset="0.925" stop-color="#555da2"/>
<stop offset="0.950" stop-color="#4c5aa2"/>
<stop offset="0.975" stop-color="#415ba5"/>
<stop offset="1.000" stop-color="#355ca8"/>
</linearGradient></defs>
<rect x="71.9" y="435.0" width="49.1" height="9.5" fill="url(#lfc)"/>
<text x="98.50" y="432.40" font-size="7.4" font-weight="bold" text-anchor="middle" fill="#000" stroke="#000" stroke-width="0.1" >log2FC</text>
<text x="73.00" y="451.80" font-size="7.2" font-weight="normal" text-anchor="middle" fill="#000" stroke="#000" stroke-width="0.15" >1</text>
<text x="95.80" y="451.80" font-size="7.2" font-weight="normal" text-anchor="middle" fill="#000" stroke="#000" stroke-width="0.15" >0</text>
<text x="121.30" y="451.80" font-size="7.2" font-weight="normal" text-anchor="end" fill="#000" stroke="#000" stroke-width="0.15" >−1</text>
<line x1="609.4" y1="33.4" x2="609.4" y2="251.0" stroke="#f0f0f0" stroke-width="0.6"/>
<line x1="629.25" y1="33.4" x2="629.25" y2="251.0" stroke="#f0f0f0" stroke-width="0.6"/>
<line x1="649.1" y1="33.4" x2="649.1" y2="251.0" stroke="#f0f0f0" stroke-width="0.6"/>
<line x1="668.9" y1="33.4" x2="668.9" y2="251.0" stroke="#f0f0f0" stroke-width="0.6"/>
<line x1="599.5" y1="33.4" x2="599.5" y2="251.0" stroke="#e6e6e6" stroke-width="0.7"/>
<line x1="619.3" y1="33.4" x2="619.3" y2="251.0" stroke="#e6e6e6" stroke-width="0.7"/>
<line x1="639.2" y1="33.4" x2="639.2" y2="251.0" stroke="#e6e6e6" stroke-width="0.7"/>
<line x1="659.0" y1="33.4" x2="659.0" y2="251.0" stroke="#e6e6e6" stroke-width="0.7"/>
<line x1="592.3" y1="38.4" x2="678.5" y2="38.4" stroke="#e6e6e6" stroke-width="0.7"/>
<line x1="592.3" y1="47.4" x2="678.5" y2="47.4" stroke="#e6e6e6" stroke-width="0.7"/>
<line x1="592.3" y1="56.4" x2="678.5" y2="56.4" stroke="#e6e6e6" stroke-width="0.7"/>
<line x1="592.3" y1="65.4" x2="678.5" y2="65.4" stroke="#e6e6e6" stroke-width="0.7"/>
<line x1="592.3" y1="74.4" x2="678.5" y2="74.4" stroke="#e6e6e6" stroke-width="0.7"/>
<line x1="592.3" y1="83.4" x2="678.5" y2="83.4" stroke="#e6e6e6" stroke-width="0.7"/>
<line x1="592.3" y1="92.4" x2="678.5" y2="92.4" stroke="#e6e6e6" stroke-width="0.7"/>
<line x1="592.3" y1="101.4" x2="678.5" y2="101.4" stroke="#e6e6e6" stroke-width="0.7"/>
<line x1="592.3" y1="110.4" x2="678.5" y2="110.4" stroke="#e6e6e6" stroke-width="0.7"/>
<line x1="592.3" y1="119.4" x2="678.5" y2="119.4" stroke="#e6e6e6" stroke-width="0.7"/>
<line x1="592.3" y1="128.4" x2="678.5" y2="128.4" stroke="#e6e6e6" stroke-width="0.7"/>
<line x1="592.3" y1="137.4" x2="678.5" y2="137.4" stroke="#e6e6e6" stroke-width="0.7"/>
<line x1="592.3" y1="146.4" x2="678.5" y2="146.4" stroke="#e6e6e6" stroke-width="0.7"/>
<line x1="592.3" y1="155.4" x2="678.5" y2="155.4" stroke="#e6e6e6" stroke-width="0.7"/>
<line x1="592.3" y1="164.4" x2="678.5" y2="164.4" stroke="#e6e6e6" stroke-width="0.7"/>
<line x1="592.3" y1="173.4" x2="678.5" y2="173.4" stroke="#e6e6e6" stroke-width="0.7"/>
<line x1="592.3" y1="182.4" x2="678.5" y2="182.4" stroke="#e6e6e6" stroke-width="0.7"/>
<line x1="592.3" y1="191.4" x2="678.5" y2="191.4" stroke="#e6e6e6" stroke-width="0.7"/>
<line x1="592.3" y1="200.4" x2="678.5" y2="200.4" stroke="#e6e6e6" stroke-width="0.7"/>
<line x1="592.3" y1="209.4" x2="678.5" y2="209.4" stroke="#e6e6e6" stroke-width="0.7"/>
<line x1="592.3" y1="218.4" x2="678.5" y2="218.4" stroke="#e6e6e6" stroke-width="0.7"/>
<line x1="592.3" y1="227.4" x2="678.5" y2="227.4" stroke="#e6e6e6" stroke-width="0.7"/>
<line x1="592.3" y1="236.4" x2="678.5" y2="236.4" stroke="#e6e6e6" stroke-width="0.7"/>
<line x1="592.3" y1="245.4" x2="678.5" y2="245.4" stroke="#e6e6e6" stroke-width="0.7"/>
<circle cx="674.3" cy="38.4" r="3.4" fill="#e92038"/>
<circle cx="674.3" cy="47.4" r="3.4" fill="#e92038"/>
<circle cx="674.3" cy="56.4" r="1.35" fill="#e92038"/>
<circle cx="674.3" cy="65.4" r="3.65" fill="#e92038"/>
<circle cx="673.0" cy="74.4" r="2.85" fill="#e92038"/>
<circle cx="668.4" cy="83.4" r="3.2" fill="#e81f3d"/>
<circle cx="668.4" cy="92.4" r="1.5" fill="#e81f3c"/>
<circle cx="648.2" cy="101.4" r="2.25" fill="#e71f41"/>
<circle cx="646.4" cy="110.4" r="3.15" fill="#e61e43"/>
<circle cx="640.7" cy="119.4" r="2.85" fill="#e51e46"/>
<circle cx="640.4" cy="128.4" r="1.5" fill="#e51d48"/>
<circle cx="626.8" cy="137.4" r="3.15" fill="#e01a5b"/>
<circle cx="619.3" cy="146.4" r="2.65" fill="#d61972"/>
<circle cx="614.5" cy="155.4" r="1.5" fill="#d0197c"/>
<circle cx="612.2" cy="164.4" r="1.5" fill="#b72288"/>
<circle cx="611.5" cy="173.4" r="2.25" fill="#ac268c"/>
<circle cx="610.7" cy="182.4" r="2.85" fill="#a3288d"/>
<circle cx="610.4" cy="191.4" r="3.65" fill="#9f298d"/>
<circle cx="610.4" cy="200.4" r="1.5" fill="#a1298d"/>
<circle cx="610.5" cy="209.4" r="2.45" fill="#9f298d"/>
<circle cx="606.9" cy="218.4" r="2.85" fill="#922c8e"/>
<circle cx="597.7" cy="227.4" r="1.6" fill="#554da4"/>
<circle cx="596.1" cy="236.4" r="1.6" fill="#3c5cac"/>
<circle cx="596.1" cy="245.4" r="1.6" fill="#3c5cac"/>
<rect x="592.3" y="33.4" width="86.20000000000005" height="217.6" fill="none" stroke="#a6a6a6" stroke-width="0.7"/>
<line x1="590.6999999999999" y1="38.4" x2="592.3" y2="38.4" stroke="#555" stroke-width="0.6"/>
<text x="589.60" y="42.90" font-size="8.15" font-weight="normal" text-anchor="end" fill="#111" stroke="#111" stroke-width="0.15" >Intracellular transport</text>
<line x1="590.6999999999999" y1="47.4" x2="592.3" y2="47.4" stroke="#555" stroke-width="0.6"/>
<text x="589.60" y="51.86" font-size="8.15" font-weight="normal" text-anchor="end" fill="#111" stroke="#111" stroke-width="0.15" >Anatomical structure morphogenesis</text>
<line x1="590.6999999999999" y1="56.4" x2="592.3" y2="56.4" stroke="#555" stroke-width="0.6"/>
<text x="589.60" y="60.82" font-size="8.15" font-weight="normal" text-anchor="end" fill="#111" stroke="#111" stroke-width="0.15" >Neurofilament cytoskeleton organization</text>
<line x1="590.6999999999999" y1="65.4" x2="592.3" y2="65.4" stroke="#555" stroke-width="0.6"/>
<text x="589.60" y="69.78" font-size="8.15" font-weight="normal" text-anchor="end" fill="#111" stroke="#111" stroke-width="0.15" >Transport</text>
<line x1="590.6999999999999" y1="74.4" x2="592.3" y2="74.4" stroke="#555" stroke-width="0.6"/>
<text x="589.60" y="78.74" font-size="8.15" font-weight="normal" text-anchor="end" fill="#111" stroke="#111" stroke-width="0.15" >Cellular component morphogenesis</text>
<line x1="590.6999999999999" y1="83.4" x2="592.3" y2="83.4" stroke="#555" stroke-width="0.6"/>
<text x="589.60" y="87.70" font-size="8.15" font-weight="normal" text-anchor="end" fill="#111" stroke="#111" stroke-width="0.15" >Cell development</text>
<line x1="590.6999999999999" y1="92.4" x2="592.3" y2="92.4" stroke="#555" stroke-width="0.6"/>
<text x="589.60" y="96.66" font-size="8.15" font-weight="normal" text-anchor="end" fill="#111" stroke="#111" stroke-width="0.15" >Ire1−mediated unfolded protein response</text>
<line x1="590.6999999999999" y1="101.4" x2="592.3" y2="101.4" stroke="#555" stroke-width="0.6"/>
<text x="589.60" y="105.62" font-size="8.15" font-weight="normal" text-anchor="end" fill="#111" stroke="#111" stroke-width="0.15" >Protein targeting to membrane</text>
<line x1="590.6999999999999" y1="110.4" x2="592.3" y2="110.4" stroke="#555" stroke-width="0.6"/>
<text x="589.60" y="114.58" font-size="8.15" font-weight="normal" text-anchor="end" fill="#111" stroke="#111" stroke-width="0.15" >Movement of cell or subcellular component</text>
<line x1="590.6999999999999" y1="119.4" x2="592.3" y2="119.4" stroke="#555" stroke-width="0.6"/>
<text x="589.60" y="123.54" font-size="8.15" font-weight="normal" text-anchor="end" fill="#111" stroke="#111" stroke-width="0.15" >Supramolecular fiber organization</text>
<line x1="590.6999999999999" y1="128.4" x2="592.3" y2="128.4" stroke="#555" stroke-width="0.6"/>
<text x="589.60" y="132.50" font-size="8.15" font-weight="normal" text-anchor="end" fill="#111" stroke="#111" stroke-width="0.15" >Substrate−dependent cell migration</text>
<line x1="590.6999999999999" y1="137.4" x2="592.3" y2="137.4" stroke="#555" stroke-width="0.6"/>
<text x="589.60" y="141.46" font-size="8.15" font-weight="normal" text-anchor="end" fill="#111" stroke="#111" stroke-width="0.15" >Locomotion</text>
<line x1="590.6999999999999" y1="146.4" x2="592.3" y2="146.4" stroke="#555" stroke-width="0.6"/>
<text x="589.60" y="150.42" font-size="8.15" font-weight="normal" text-anchor="end" fill="#111" stroke="#111" stroke-width="0.15" >Response to inorganic substance</text>
<line x1="590.6999999999999" y1="155.4" x2="592.3" y2="155.4" stroke="#555" stroke-width="0.6"/>
<text x="589.60" y="159.38" font-size="8.15" font-weight="normal" text-anchor="end" fill="#111" stroke="#111" stroke-width="0.15" >Intermediate filament−based process</text>
<line x1="590.6999999999999" y1="164.4" x2="592.3" y2="164.4" stroke="#555" stroke-width="0.6"/>
<text x="589.60" y="168.34" font-size="8.15" font-weight="normal" text-anchor="end" fill="#111" stroke="#111" stroke-width="0.15" >Cerebellum morphogenesis</text>
<line x1="590.6999999999999" y1="173.4" x2="592.3" y2="173.4" stroke="#555" stroke-width="0.6"/>
<text x="589.60" y="177.30" font-size="8.15" font-weight="normal" text-anchor="end" fill="#111" stroke="#111" stroke-width="0.15" >Response to endoplasmic reticulum stress</text>
<line x1="590.6999999999999" y1="182.4" x2="592.3" y2="182.4" stroke="#555" stroke-width="0.6"/>
<text x="589.60" y="186.26" font-size="8.15" font-weight="normal" text-anchor="end" fill="#111" stroke="#111" stroke-width="0.15" >Plasma memb. bounded cell projection organization</text>
<line x1="590.6999999999999" y1="191.4" x2="592.3" y2="191.4" stroke="#555" stroke-width="0.6"/>
<text x="589.60" y="195.22" font-size="8.15" font-weight="normal" text-anchor="end" fill="#111" stroke="#111" stroke-width="0.15" >Multicellular organism development</text>
<line x1="590.6999999999999" y1="200.4" x2="592.3" y2="200.4" stroke="#555" stroke-width="0.6"/>
<text x="589.60" y="204.18" font-size="8.15" font-weight="normal" text-anchor="end" fill="#111" stroke="#111" stroke-width="0.15" >Maintenance of protein location in cell</text>
<line x1="590.6999999999999" y1="209.4" x2="592.3" y2="209.4" stroke="#555" stroke-width="0.6"/>
<text x="589.60" y="213.14" font-size="8.15" font-weight="normal" text-anchor="end" fill="#111" stroke="#111" stroke-width="0.15" >Regulation of neuron projection development</text>
<line x1="590.6999999999999" y1="218.4" x2="592.3" y2="218.4" stroke="#555" stroke-width="0.6"/>
<text x="589.60" y="222.10" font-size="8.15" font-weight="normal" text-anchor="end" fill="#111" stroke="#111" stroke-width="0.15" >Regulation of cell development</text>
<line x1="590.6999999999999" y1="227.4" x2="592.3" y2="227.4" stroke="#555" stroke-width="0.6"/>
<text x="589.60" y="231.06" font-size="8.15" font-weight="normal" text-anchor="end" fill="#111" stroke="#111" stroke-width="0.15" >Cardiac muscle cell development</text>
<line x1="590.6999999999999" y1="236.4" x2="592.3" y2="236.4" stroke="#555" stroke-width="0.6"/>
<text x="589.60" y="240.02" font-size="8.15" font-weight="normal" text-anchor="end" fill="#111" stroke="#111" stroke-width="0.15" >Erad pathway</text>
<line x1="590.6999999999999" y1="245.4" x2="592.3" y2="245.4" stroke="#555" stroke-width="0.6"/>
<text x="589.60" y="248.98" font-size="8.15" font-weight="normal" text-anchor="end" fill="#111" stroke="#111" stroke-width="0.15" >Maintenance of protein location</text>
<line x1="599.5" y1="251.0" x2="599.5" y2="252.6" stroke="#555" stroke-width="0.6"/>
<text x="602.20" y="259.80" font-size="7.7" font-weight="normal" text-anchor="middle" fill="#2a2a2a" stroke="#2a2a2a" stroke-width="0.15" >1.50</text>
<line x1="619.3" y1="251.0" x2="619.3" y2="252.6" stroke="#555" stroke-width="0.6"/>
<text x="622.00" y="259.80" font-size="7.7" font-weight="normal" text-anchor="middle" fill="#2a2a2a" stroke="#2a2a2a" stroke-width="0.15" >1.75</text>
<line x1="639.2" y1="251.0" x2="639.2" y2="252.6" stroke="#555" stroke-width="0.6"/>
<text x="641.90" y="259.80" font-size="7.7" font-weight="normal" text-anchor="middle" fill="#2a2a2a" stroke="#2a2a2a" stroke-width="0.15" >2.00</text>
<line x1="659.0" y1="251.0" x2="659.0" y2="252.6" stroke="#555" stroke-width="0.6"/>
<text x="661.70" y="259.80" font-size="7.7" font-weight="normal" text-anchor="middle" fill="#2a2a2a" stroke="#2a2a2a" stroke-width="0.15" >2.25</text>
<text x="573.00" y="23.00" font-size="10.7" font-weight="bold" text-anchor="middle" fill="#000" stroke="#000" stroke-width="0.1" >AGE - CR</text>
<text x="633.20" y="273.40" font-size="8" font-weight="normal" text-anchor="middle" fill="#000" stroke="#000" stroke-width="0.15" >−log10(FDR)</text>
<text x="652.00" y="139.60" font-size="6.2" font-weight="normal" text-anchor="start" fill="#1a1a1a" stroke="#1a1a1a" stroke-width="0.15" >Count</text>
<circle cx="657.1" cy="145.1" r="1.25" fill="#000"/>
<text x="663.60" y="147.30" font-size="6.2" font-weight="normal" text-anchor="start" fill="#1a1a1a" stroke="#1a1a1a" stroke-width="0.15" >2</text>
<circle cx="657.1" cy="152.6" r="2.25" fill="#000"/>
<text x="663.60" y="154.80" font-size="6.2" font-weight="normal" text-anchor="start" fill="#1a1a1a" stroke="#1a1a1a" stroke-width="0.15" >4</text>
<circle cx="657.1" cy="159.7" r="2.65" fill="#000"/>
<text x="663.60" y="161.90" font-size="6.2" font-weight="normal" text-anchor="start" fill="#1a1a1a" stroke="#1a1a1a" stroke-width="0.15" >6</text>
<circle cx="657.1" cy="167.4" r="3.0" fill="#000"/>
<text x="663.60" y="169.60" font-size="6.2" font-weight="normal" text-anchor="start" fill="#1a1a1a" stroke="#1a1a1a" stroke-width="0.15" >8</text>
<circle cx="657.1" cy="176.0" r="3.4" fill="#000"/>
<text x="663.60" y="178.20" font-size="6.2" font-weight="normal" text-anchor="start" fill="#1a1a1a" stroke="#1a1a1a" stroke-width="0.15" >10</text>
<circle cx="657.1" cy="185.5" r="3.8" fill="#000"/>
<text x="663.60" y="187.70" font-size="6.2" font-weight="normal" text-anchor="start" fill="#1a1a1a" stroke="#1a1a1a" stroke-width="0.15" >12</text>
<defs><linearGradient id="fdr" x1="0" y1="0" x2="0" y2="1">
<stop offset="0.000" stop-color="#e92038"/>
<stop offset="0.050" stop-color="#e71f41"/>
<stop offset="0.100" stop-color="#e51d4a"/>
<stop offset="0.150" stop-color="#e21c52"/>
<stop offset="0.200" stop-color="#e01a5b"/>
<stop offset="0.250" stop-color="#de1964"/>
<stop offset="0.300" stop-color="#da196b"/>
<stop offset="0.350" stop-color="#d61972"/>
<stop offset="0.400" stop-color="#d11979"/>
<stop offset="0.450" stop-color="#cd1980"/>
<stop offset="0.500" stop-color="#c21d84"/>
<stop offset="0.550" stop-color="#b72288"/>
<stop offset="0.600" stop-color="#ac268c"/>
<stop offset="0.650" stop-color="#a1298d"/>
<stop offset="0.700" stop-color="#972b8d"/>
<stop offset="0.750" stop-color="#8c2e8e"/>
<stop offset="0.800" stop-color="#7d3694"/>
<stop offset="0.850" stop-color="#6f3e9a"/>
<stop offset="0.900" stop-color="#6046a0"/>
<stop offset="0.950" stop-color="#4e51a6"/>
<stop offset="1.000" stop-color="#3c5cac"/>
</linearGradient></defs>
<text x="652.00" y="204.80" font-size="6.2" font-weight="normal" text-anchor="start" fill="#1a1a1a" stroke="#1a1a1a" stroke-width="0.15" >FDR</text>
<rect x="652.0" y="207.8" width="7.0" height="36.2" fill="url(#fdr)"/>
<text x="661.00" y="213.00" font-size="6.2" font-weight="normal" text-anchor="start" fill="#1a1a1a" stroke="#1a1a1a" stroke-width="0.15" >0.01</text>
<text x="661.00" y="221.60" font-size="6.2" font-weight="normal" text-anchor="start" fill="#1a1a1a" stroke="#1a1a1a" stroke-width="0.15" >0.02</text>
<text x="661.00" y="229.70" font-size="6.2" font-weight="normal" text-anchor="start" fill="#1a1a1a" stroke="#1a1a1a" stroke-width="0.15" >0.03</text>
<text x="661.00" y="237.80" font-size="6.2" font-weight="normal" text-anchor="start" fill="#1a1a1a" stroke="#1a1a1a" stroke-width="0.15" >0.04</text>
<line x1="606.5" y1="293.2" x2="606.5" y2="435.3" stroke="#f0f0f0" stroke-width="0.6"/>
<line x1="622.6" y1="293.2" x2="622.6" y2="435.3" stroke="#f0f0f0" stroke-width="0.6"/>
<line x1="638.5" y1="293.2" x2="638.5" y2="435.3" stroke="#f0f0f0" stroke-width="0.6"/>
<line x1="654.6" y1="293.2" x2="654.6" y2="435.3" stroke="#f0f0f0" stroke-width="0.6"/>
<line x1="670.8" y1="293.2" x2="670.8" y2="435.3" stroke="#f0f0f0" stroke-width="0.6"/>
<line x1="614.6" y1="293.2" x2="614.6" y2="435.3" stroke="#e6e6e6" stroke-width="0.7"/>
<line x1="630.6" y1="293.2" x2="630.6" y2="435.3" stroke="#e6e6e6" stroke-width="0.7"/>
<line x1="646.6" y1="293.2" x2="646.6" y2="435.3" stroke="#e6e6e6" stroke-width="0.7"/>
<line x1="662.7" y1="293.2" x2="662.7" y2="435.3" stroke="#e6e6e6" stroke-width="0.7"/>
<line x1="678.7" y1="293.2" x2="678.7" y2="435.3" stroke="#e6e6e6" stroke-width="0.7"/>
<line x1="598.2" y1="299.1" x2="679.0" y2="299.1" stroke="#e6e6e6" stroke-width="0.7"/>
<line x1="598.2" y1="309.17" x2="679.0" y2="309.17" stroke="#e6e6e6" stroke-width="0.7"/>
<line x1="598.2" y1="319.24" x2="679.0" y2="319.24" stroke="#e6e6e6" stroke-width="0.7"/>
<line x1="598.2" y1="329.31" x2="679.0" y2="329.31" stroke="#e6e6e6" stroke-width="0.7"/>
<line x1="598.2" y1="339.38" x2="679.0" y2="339.38" stroke="#e6e6e6" stroke-width="0.7"/>
<line x1="598.2" y1="349.45000000000005" x2="679.0" y2="349.45000000000005" stroke="#e6e6e6" stroke-width="0.7"/>
<line x1="598.2" y1="359.52000000000004" x2="679.0" y2="359.52000000000004" stroke="#e6e6e6" stroke-width="0.7"/>
<line x1="598.2" y1="369.59000000000003" x2="679.0" y2="369.59000000000003" stroke="#e6e6e6" stroke-width="0.7"/>
<line x1="598.2" y1="379.66" x2="679.0" y2="379.66" stroke="#e6e6e6" stroke-width="0.7"/>
<line x1="598.2" y1="389.73" x2="679.0" y2="389.73" stroke="#e6e6e6" stroke-width="0.7"/>
<line x1="598.2" y1="399.8" x2="679.0" y2="399.8" stroke="#e6e6e6" stroke-width="0.7"/>
<line x1="598.2" y1="409.87" x2="679.0" y2="409.87" stroke="#e6e6e6" stroke-width="0.7"/>
<line x1="598.2" y1="419.94000000000005" x2="679.0" y2="419.94000000000005" stroke="#e6e6e6" stroke-width="0.7"/>
<line x1="598.2" y1="430.01" x2="679.0" y2="430.01" stroke="#e6e6e6" stroke-width="0.7"/>
<circle cx="675.7" cy="299.1" r="1.75" fill="#e92038"/>
<circle cx="653.5" cy="309.17" r="1.7" fill="#e92038"/>
<circle cx="653.5" cy="319.24" r="4.5" fill="#e92038"/>
<circle cx="653.5" cy="329.31" r="1.7" fill="#e92038"/>
<circle cx="653.5" cy="339.38" r="4.5" fill="#e92038"/>
<circle cx="634.5" cy="349.45000000000005" r="1.65" fill="#e01a5b"/>
<circle cx="626.4" cy="359.52000000000004" r="4.35" fill="#da196b"/>
<circle cx="625.0" cy="369.59000000000003" r="4.35" fill="#d8196e"/>
<circle cx="623.9" cy="379.66" r="1.65" fill="#d51973"/>
<circle cx="619.8" cy="389.73" r="1.65" fill="#d11979"/>
<circle cx="613.6" cy="399.8" r="4.35" fill="#922c8e"/>
<circle cx="613.6" cy="409.87" r="4.35" fill="#922c8e"/>
<circle cx="602.6" cy="419.94000000000005" r="1.65" fill="#3c5cac"/>
<circle cx="602.6" cy="430.01" r="1.65" fill="#3c5cac"/>
<rect x="598.2" y="293.2" width="80.79999999999995" height="142.10000000000002" fill="none" stroke="#a6a6a6" stroke-width="0.7"/>
<line x1="596.6" y1="299.1" x2="598.2" y2="299.1" stroke="#555" stroke-width="0.6"/>
<text x="595.40" y="301.20" font-size="8.15" font-weight="normal" text-anchor="end" fill="#111" stroke="#111" stroke-width="0.15" >Pos. reg. of mitochondrial calcium ion concentration</text>
<line x1="596.6" y1="309.17" x2="598.2" y2="309.17" stroke="#555" stroke-width="0.6"/>
<text x="595.40" y="311.24" font-size="8.15" font-weight="normal" text-anchor="end" fill="#111" stroke="#111" stroke-width="0.15" >Mitochondrial calcium ion homeostasis</text>
<line x1="596.6" y1="319.24" x2="598.2" y2="319.24" stroke="#555" stroke-width="0.6"/>
<text x="595.40" y="321.28" font-size="8.15" font-weight="normal" text-anchor="end" fill="#111" stroke="#111" stroke-width="0.15" >Striated muscle cell development</text>
<line x1="596.6" y1="329.31" x2="598.2" y2="329.31" stroke="#555" stroke-width="0.6"/>
<text x="595.40" y="331.32" font-size="8.15" font-weight="normal" text-anchor="end" fill="#111" stroke="#111" stroke-width="0.15" >Relaxation of muscle</text>
<line x1="596.6" y1="339.38" x2="598.2" y2="339.38" stroke="#555" stroke-width="0.6"/>
<text x="595.40" y="341.36" font-size="8.15" font-weight="normal" text-anchor="end" fill="#111" stroke="#111" stroke-width="0.15" >Muscle cell development</text>
<line x1="596.6" y1="349.45000000000005" x2="598.2" y2="349.45000000000005" stroke="#555" stroke-width="0.6"/>
<text x="595.40" y="351.40" font-size="8.15" font-weight="normal" text-anchor="end" fill="#111" stroke="#111" stroke-width="0.15" >Sarcomere organization</text>
<line x1="596.6" y1="359.52000000000004" x2="598.2" y2="359.52000000000004" stroke="#555" stroke-width="0.6"/>
<text x="595.40" y="361.44" font-size="8.15" font-weight="normal" text-anchor="end" fill="#111" stroke="#111" stroke-width="0.15" >Muscle contraction</text>
<line x1="596.6" y1="369.59000000000003" x2="598.2" y2="369.59000000000003" stroke="#555" stroke-width="0.6"/>
<text x="595.40" y="371.48" font-size="8.15" font-weight="normal" text-anchor="end" fill="#111" stroke="#111" stroke-width="0.15" >Striated muscle cell differentiation</text>
<line x1="596.6" y1="379.66" x2="598.2" y2="379.66" stroke="#555" stroke-width="0.6"/>
<text x="595.40" y="381.52" font-size="8.15" font-weight="normal" text-anchor="end" fill="#111" stroke="#111" stroke-width="0.15" >Myofibril assembly</text>
<line x1="596.6" y1="389.73" x2="598.2" y2="389.73" stroke="#555" stroke-width="0.6"/>
<text x="595.40" y="391.56" font-size="8.15" font-weight="normal" text-anchor="end" fill="#111" stroke="#111" stroke-width="0.15" >Muscle fiber development</text>
<line x1="596.6" y1="399.8" x2="598.2" y2="399.8" stroke="#555" stroke-width="0.6"/>
<text x="595.40" y="401.60" font-size="8.15" font-weight="normal" text-anchor="end" fill="#111" stroke="#111" stroke-width="0.15" >Muscle cell differentiation</text>
<line x1="596.6" y1="409.87" x2="598.2" y2="409.87" stroke="#555" stroke-width="0.6"/>
<text x="595.40" y="411.64" font-size="8.15" font-weight="normal" text-anchor="end" fill="#111" stroke="#111" stroke-width="0.15" >Muscle system process</text>
<line x1="596.6" y1="419.94000000000005" x2="598.2" y2="419.94000000000005" stroke="#555" stroke-width="0.6"/>
<text x="595.40" y="421.68" font-size="8.15" font-weight="normal" text-anchor="end" fill="#111" stroke="#111" stroke-width="0.15" >Apoptotic mitochondrial changes</text>
<line x1="596.6" y1="430.01" x2="598.2" y2="430.01" stroke="#555" stroke-width="0.6"/>
<text x="595.40" y="431.72" font-size="8.15" font-weight="normal" text-anchor="end" fill="#111" stroke="#111" stroke-width="0.15" >Cellular component assembly involved in morphogenesis</text>
<line x1="614.6" y1="435.3" x2="614.6" y2="436.90000000000003" stroke="#555" stroke-width="0.6"/>
<text x="615.50" y="444.60" font-size="7.9" font-weight="normal" text-anchor="middle" fill="#2a2a2a" stroke="#2a2a2a" stroke-width="0.15" >1.6</text>
<line x1="630.6" y1="435.3" x2="630.6" y2="436.90000000000003" stroke="#555" stroke-width="0.6"/>
<text x="631.50" y="444.60" font-size="7.9" font-weight="normal" text-anchor="middle" fill="#2a2a2a" stroke="#2a2a2a" stroke-width="0.15" >1.8</text>
<line x1="646.6" y1="435.3" x2="646.6" y2="436.90000000000003" stroke="#555" stroke-width="0.6"/>
<text x="647.50" y="444.60" font-size="7.9" font-weight="normal" text-anchor="middle" fill="#2a2a2a" stroke="#2a2a2a" stroke-width="0.15" >2.0</text>
<line x1="662.7" y1="435.3" x2="662.7" y2="436.90000000000003" stroke="#555" stroke-width="0.6"/>
<text x="663.60" y="444.60" font-size="7.9" font-weight="normal" text-anchor="middle" fill="#2a2a2a" stroke="#2a2a2a" stroke-width="0.15" >2.2</text>
<line x1="678.7" y1="435.3" x2="678.7" y2="436.90000000000003" stroke="#555" stroke-width="0.6"/>
<text x="679.60" y="444.60" font-size="7.9" font-weight="normal" text-anchor="middle" fill="#2a2a2a" stroke="#2a2a2a" stroke-width="0.15" >2.4</text>
<text x="566.80" y="285.20" font-size="10.7" font-weight="bold" text-anchor="middle" fill="#000" stroke="#000" stroke-width="0.1" >CR-RM</text>
<text x="642.60" y="454.40" font-size="8" font-weight="normal" text-anchor="middle" fill="#000" stroke="#000" stroke-width="0.15" >−log10(FDR)</text>
<text x="629.20" y="400.80" font-size="6.2" font-weight="normal" text-anchor="start" fill="#1a1a1a" stroke="#1a1a1a" stroke-width="0.15" >Count</text>
<circle cx="633.7" cy="407.5" r="1.6" fill="#000"/>
<text x="641.60" y="409.70" font-size="6.2" font-weight="normal" text-anchor="start" fill="#1a1a1a" stroke="#1a1a1a" stroke-width="0.15" >2</text>
<circle cx="634.2" cy="417.6" r="4.1" fill="#000"/>
<text x="641.60" y="419.80" font-size="6.2" font-weight="normal" text-anchor="start" fill="#1a1a1a" stroke="#1a1a1a" stroke-width="0.15" >3</text>
<text x="655.10" y="385.10" font-size="6.2" font-weight="normal" text-anchor="start" fill="#1a1a1a" stroke="#1a1a1a" stroke-width="0.15" >FDR</text>
<rect x="655.1" y="388.3" width="8.0" height="41.1" fill="url(#fdr)"/>
<text x="665.20" y="394.00" font-size="6.2" font-weight="normal" text-anchor="start" fill="#1a1a1a" stroke="#1a1a1a" stroke-width="0.15" >0.01</text>
<text x="665.20" y="403.70" font-size="6.2" font-weight="normal" text-anchor="start" fill="#1a1a1a" stroke="#1a1a1a" stroke-width="0.15" >0.02</text>
<text x="665.20" y="413.40" font-size="6.2" font-weight="normal" text-anchor="start" fill="#1a1a1a" stroke="#1a1a1a" stroke-width="0.15" >0.03</text>
<text x="665.20" y="423.20" font-size="6.2" font-weight="normal" text-anchor="start" fill="#1a1a1a" stroke="#1a1a1a" stroke-width="0.15" >0.04</text>
</svg>
</body></html>
